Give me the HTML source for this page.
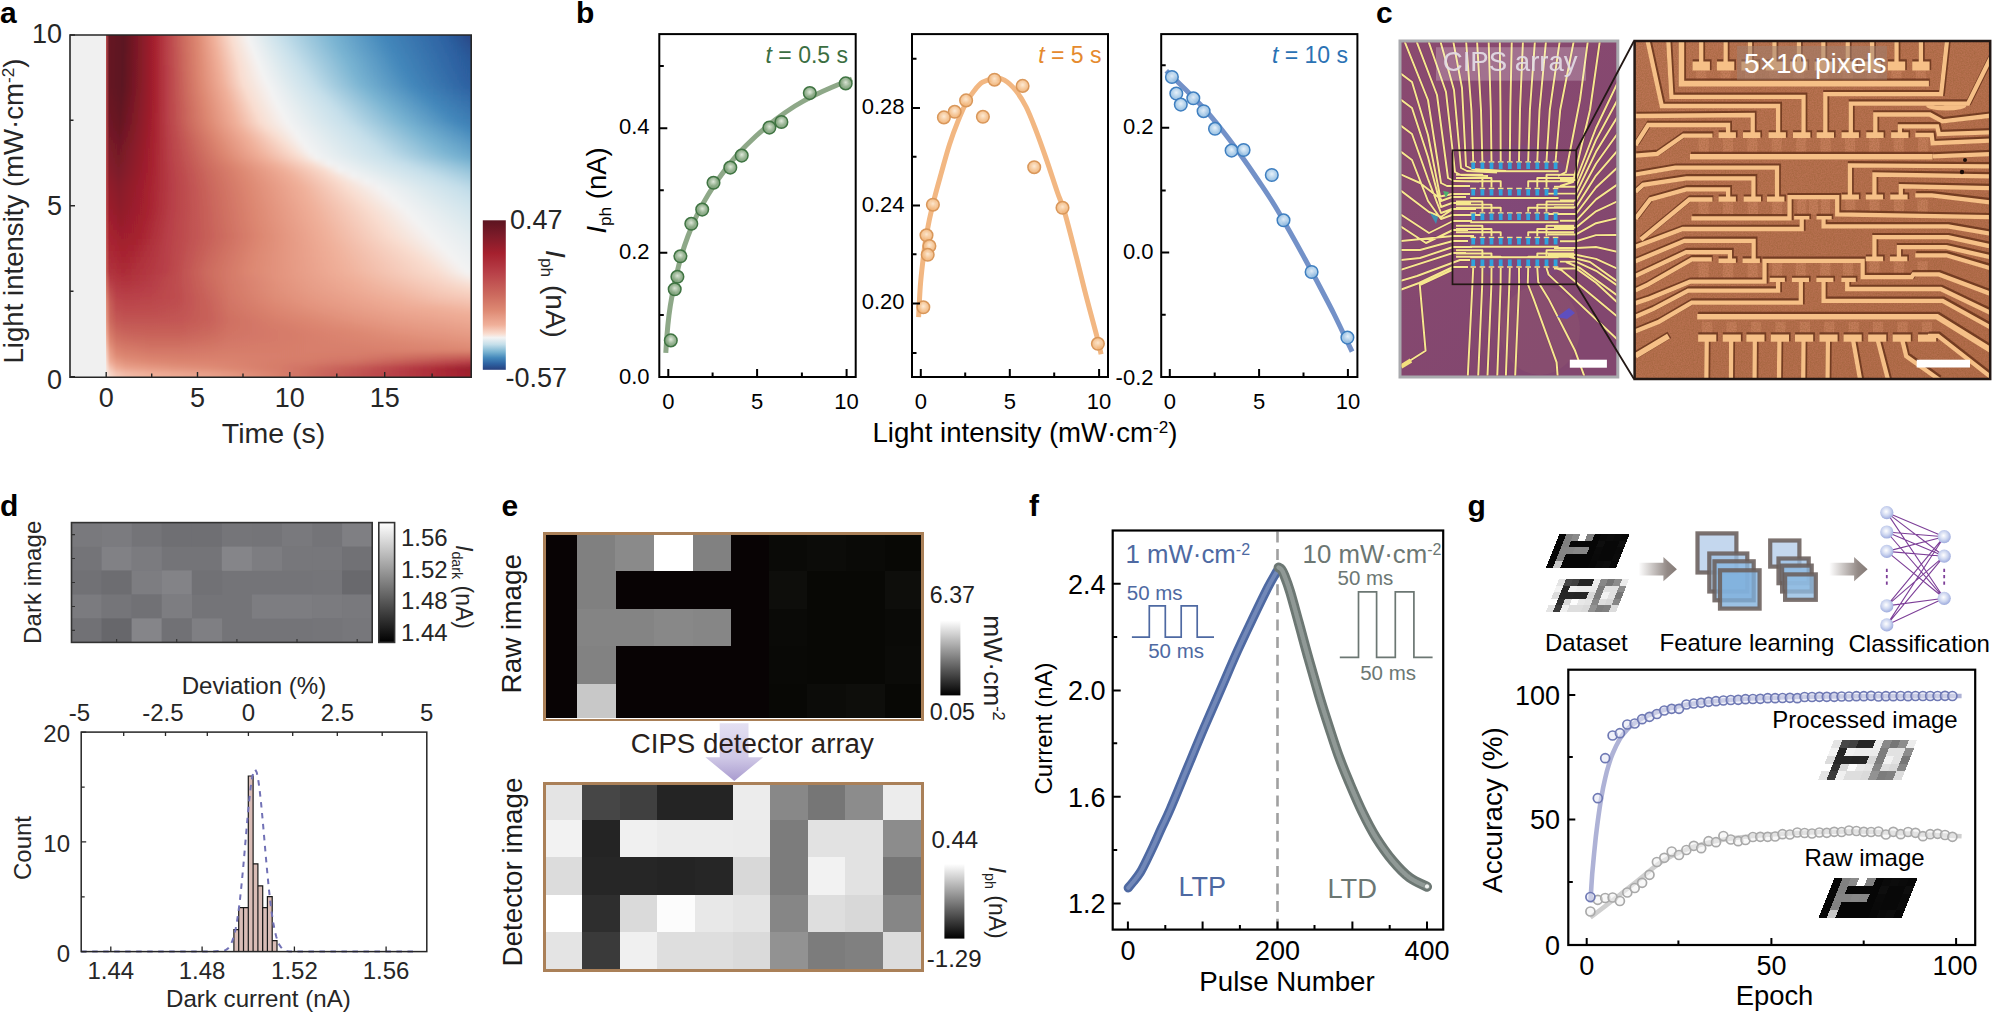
<!DOCTYPE html>
<html><head><meta charset="utf-8"><title>Figure</title>
<style>html,body{margin:0;padding:0;background:#fff}svg{display:block}text{font-family:'Liberation Sans', sans-serif}</style></head>
<body>
<svg width="1992" height="1013" viewBox="0 0 1992 1013">
<defs>
<clipPath id="hc"><rect x="106" y="35" width="365" height="342"/></clipPath>
<filter id="vb" x="-5%" y="-5%" width="110%" height="110%"><feGaussianBlur stdDeviation="0 2.5"/></filter>
<linearGradient id="h0" gradientUnits="userSpaceOnUse" x1="106" x2="906"><stop offset="0" stop-color="#bf4e4f"/><stop offset="0.004" stop-color="#661623"/><stop offset="0.022" stop-color="#5c1420"/><stop offset="0.06" stop-color="#a5202e"/><stop offset="0.076" stop-color="#b84048"/><stop offset="0.096" stop-color="#cc6a5e"/><stop offset="0.114" stop-color="#dd8872"/><stop offset="0.135" stop-color="#f0b09a"/><stop offset="0.157" stop-color="#f9ddd0"/><stop offset="0.178" stop-color="#f3f3f3"/><stop offset="0.22" stop-color="#c5dfea"/><stop offset="0.284" stop-color="#7ab4d2"/><stop offset="0.346" stop-color="#4488bb"/><stop offset="0.424" stop-color="#2d62a2"/><stop offset="0.468" stop-color="#27407e"/></linearGradient>
<linearGradient id="h1" gradientUnits="userSpaceOnUse" x1="106" x2="906"><stop offset="0" stop-color="#bf4e4f"/><stop offset="0.004" stop-color="#661623"/><stop offset="0.022" stop-color="#5c1420"/><stop offset="0.06" stop-color="#a5202e"/><stop offset="0.076" stop-color="#b84048"/><stop offset="0.097" stop-color="#cc6a5e"/><stop offset="0.115" stop-color="#dd8872"/><stop offset="0.136" stop-color="#f0b09a"/><stop offset="0.159" stop-color="#f9ddd0"/><stop offset="0.181" stop-color="#f3f3f3"/><stop offset="0.225" stop-color="#c5dfea"/><stop offset="0.288" stop-color="#7ab4d2"/><stop offset="0.351" stop-color="#4488bb"/><stop offset="0.428" stop-color="#2d62a2"/><stop offset="0.478" stop-color="#27407e"/></linearGradient>
<linearGradient id="h2" gradientUnits="userSpaceOnUse" x1="106" x2="906"><stop offset="-0" stop-color="#bf4e4f"/><stop offset="0.004" stop-color="#661623"/><stop offset="0.022" stop-color="#5c1420"/><stop offset="0.06" stop-color="#a5202e"/><stop offset="0.076" stop-color="#b84048"/><stop offset="0.097" stop-color="#cc6a5e"/><stop offset="0.115" stop-color="#dd8872"/><stop offset="0.138" stop-color="#f0b09a"/><stop offset="0.161" stop-color="#f9ddd0"/><stop offset="0.184" stop-color="#f3f3f3"/><stop offset="0.23" stop-color="#c5dfea"/><stop offset="0.292" stop-color="#7ab4d2"/><stop offset="0.355" stop-color="#4488bb"/><stop offset="0.431" stop-color="#2d62a2"/><stop offset="0.489" stop-color="#27407e"/></linearGradient>
<linearGradient id="h3" gradientUnits="userSpaceOnUse" x1="106" x2="906"><stop offset="0" stop-color="#bf4e4f"/><stop offset="0.004" stop-color="#661623"/><stop offset="0.021" stop-color="#5c1420"/><stop offset="0.06" stop-color="#a5202e"/><stop offset="0.076" stop-color="#b84048"/><stop offset="0.098" stop-color="#cc6a5e"/><stop offset="0.116" stop-color="#dd8872"/><stop offset="0.139" stop-color="#f0b09a"/><stop offset="0.163" stop-color="#f9ddd0"/><stop offset="0.187" stop-color="#f3f3f3"/><stop offset="0.235" stop-color="#c5dfea"/><stop offset="0.297" stop-color="#7ab4d2"/><stop offset="0.36" stop-color="#4488bb"/><stop offset="0.435" stop-color="#2d62a2"/><stop offset="0.5" stop-color="#27407e"/></linearGradient>
<linearGradient id="h4" gradientUnits="userSpaceOnUse" x1="106" x2="906"><stop offset="0" stop-color="#bf4e4f"/><stop offset="0.004" stop-color="#661623"/><stop offset="0.021" stop-color="#5c1420"/><stop offset="0.06" stop-color="#a5202e"/><stop offset="0.076" stop-color="#b84048"/><stop offset="0.098" stop-color="#cc6a5e"/><stop offset="0.116" stop-color="#dd8872"/><stop offset="0.141" stop-color="#f0b09a"/><stop offset="0.165" stop-color="#f9ddd0"/><stop offset="0.19" stop-color="#f3f3f3"/><stop offset="0.24" stop-color="#c5dfea"/><stop offset="0.302" stop-color="#7ab4d2"/><stop offset="0.364" stop-color="#4488bb"/><stop offset="0.438" stop-color="#2d62a2"/><stop offset="0.51" stop-color="#27407e"/></linearGradient>
<linearGradient id="h5" gradientUnits="userSpaceOnUse" x1="106" x2="906"><stop offset="0" stop-color="#bf4e4f"/><stop offset="0.004" stop-color="#661623"/><stop offset="0.021" stop-color="#5c1420"/><stop offset="0.06" stop-color="#a5202e"/><stop offset="0.077" stop-color="#b84048"/><stop offset="0.098" stop-color="#cc6a5e"/><stop offset="0.117" stop-color="#dd8872"/><stop offset="0.142" stop-color="#f0b09a"/><stop offset="0.167" stop-color="#f9ddd0"/><stop offset="0.193" stop-color="#f3f3f3"/><stop offset="0.245" stop-color="#c5dfea"/><stop offset="0.306" stop-color="#7ab4d2"/><stop offset="0.368" stop-color="#4488bb"/><stop offset="0.441" stop-color="#2d62a2"/><stop offset="0.521" stop-color="#27407e"/></linearGradient>
<linearGradient id="h6" gradientUnits="userSpaceOnUse" x1="106" x2="906"><stop offset="0" stop-color="#bf4e4f"/><stop offset="0.004" stop-color="#661623"/><stop offset="0.021" stop-color="#5c1420"/><stop offset="0.06" stop-color="#a5202e"/><stop offset="0.077" stop-color="#b84048"/><stop offset="0.099" stop-color="#cc6a5e"/><stop offset="0.117" stop-color="#dd8872"/><stop offset="0.144" stop-color="#f0b09a"/><stop offset="0.168" stop-color="#f9ddd0"/><stop offset="0.196" stop-color="#f3f3f3"/><stop offset="0.25" stop-color="#c5dfea"/><stop offset="0.31" stop-color="#7ab4d2"/><stop offset="0.373" stop-color="#4488bb"/><stop offset="0.445" stop-color="#2d62a2"/><stop offset="0.532" stop-color="#27407e"/></linearGradient>
<linearGradient id="h7" gradientUnits="userSpaceOnUse" x1="106" x2="906"><stop offset="0" stop-color="#bf4e4f"/><stop offset="0.004" stop-color="#661623"/><stop offset="0.02" stop-color="#5c1420"/><stop offset="0.06" stop-color="#a5202e"/><stop offset="0.077" stop-color="#b84048"/><stop offset="0.099" stop-color="#cc6a5e"/><stop offset="0.118" stop-color="#dd8872"/><stop offset="0.145" stop-color="#f0b09a"/><stop offset="0.17" stop-color="#f9ddd0"/><stop offset="0.199" stop-color="#f3f3f3"/><stop offset="0.255" stop-color="#c5dfea"/><stop offset="0.315" stop-color="#7ab4d2"/><stop offset="0.378" stop-color="#4488bb"/><stop offset="0.448" stop-color="#2d62a2"/><stop offset="0.542" stop-color="#27407e"/></linearGradient>
<linearGradient id="h8" gradientUnits="userSpaceOnUse" x1="106" x2="906"><stop offset="0" stop-color="#bf4e4f"/><stop offset="0.004" stop-color="#661623"/><stop offset="0.02" stop-color="#5c1420"/><stop offset="0.06" stop-color="#a5202e"/><stop offset="0.077" stop-color="#b84048"/><stop offset="0.1" stop-color="#cc6a5e"/><stop offset="0.119" stop-color="#dd8872"/><stop offset="0.147" stop-color="#f0b09a"/><stop offset="0.172" stop-color="#f9ddd0"/><stop offset="0.203" stop-color="#f3f3f3"/><stop offset="0.26" stop-color="#c5dfea"/><stop offset="0.32" stop-color="#7ab4d2"/><stop offset="0.383" stop-color="#4488bb"/><stop offset="0.453" stop-color="#2d62a2"/><stop offset="0.553" stop-color="#27407e"/></linearGradient>
<linearGradient id="h9" gradientUnits="userSpaceOnUse" x1="106" x2="906"><stop offset="0" stop-color="#bf4e4f"/><stop offset="0.004" stop-color="#671623"/><stop offset="0.02" stop-color="#5e1420"/><stop offset="0.06" stop-color="#a5202e"/><stop offset="0.077" stop-color="#b84048"/><stop offset="0.1" stop-color="#cc6a5e"/><stop offset="0.12" stop-color="#dd8872"/><stop offset="0.15" stop-color="#f0b09a"/><stop offset="0.176" stop-color="#f9ddd0"/><stop offset="0.207" stop-color="#f3f3f3"/><stop offset="0.267" stop-color="#c5dfea"/><stop offset="0.329" stop-color="#7ab4d2"/><stop offset="0.392" stop-color="#4488bb"/><stop offset="0.463" stop-color="#2d62a2"/><stop offset="0.563" stop-color="#27407e"/></linearGradient>
<linearGradient id="h10" gradientUnits="userSpaceOnUse" x1="106" x2="906"><stop offset="0" stop-color="#bf4e4f"/><stop offset="0.004" stop-color="#691724"/><stop offset="0.019" stop-color="#5f1521"/><stop offset="0.06" stop-color="#a5202e"/><stop offset="0.077" stop-color="#b84048"/><stop offset="0.101" stop-color="#cc6a5e"/><stop offset="0.122" stop-color="#dd8872"/><stop offset="0.152" stop-color="#f0b09a"/><stop offset="0.179" stop-color="#f9ddd0"/><stop offset="0.21" stop-color="#f3f3f3"/><stop offset="0.274" stop-color="#c5dfea"/><stop offset="0.337" stop-color="#7ab4d2"/><stop offset="0.401" stop-color="#4488bb"/><stop offset="0.474" stop-color="#2d62a2"/><stop offset="0.574" stop-color="#27407e"/></linearGradient>
<linearGradient id="h11" gradientUnits="userSpaceOnUse" x1="106" x2="906"><stop offset="0" stop-color="#bf4e4f"/><stop offset="0.004" stop-color="#6a1724"/><stop offset="0.019" stop-color="#611521"/><stop offset="0.06" stop-color="#a5202e"/><stop offset="0.077" stop-color="#b84048"/><stop offset="0.102" stop-color="#cc6a5e"/><stop offset="0.123" stop-color="#dd8872"/><stop offset="0.155" stop-color="#f0b09a"/><stop offset="0.183" stop-color="#f9ddd0"/><stop offset="0.214" stop-color="#f3f3f3"/><stop offset="0.281" stop-color="#c5dfea"/><stop offset="0.346" stop-color="#7ab4d2"/><stop offset="0.41" stop-color="#4488bb"/><stop offset="0.484" stop-color="#2d62a2"/><stop offset="0.584" stop-color="#27407e"/></linearGradient>
<linearGradient id="h12" gradientUnits="userSpaceOnUse" x1="106" x2="906"><stop offset="0" stop-color="#bf4e4f"/><stop offset="0.004" stop-color="#6c1724"/><stop offset="0.018" stop-color="#621522"/><stop offset="0.06" stop-color="#a5202e"/><stop offset="0.077" stop-color="#b84048"/><stop offset="0.103" stop-color="#cc6a5e"/><stop offset="0.125" stop-color="#dd8872"/><stop offset="0.157" stop-color="#f0b09a"/><stop offset="0.186" stop-color="#f9ddd0"/><stop offset="0.218" stop-color="#f3f3f3"/><stop offset="0.288" stop-color="#c5dfea"/><stop offset="0.354" stop-color="#7ab4d2"/><stop offset="0.419" stop-color="#4488bb"/><stop offset="0.495" stop-color="#2d62a2"/><stop offset="0.595" stop-color="#27407e"/></linearGradient>
<linearGradient id="h13" gradientUnits="userSpaceOnUse" x1="106" x2="906"><stop offset="0" stop-color="#bf4e4f"/><stop offset="0.004" stop-color="#6d1825"/><stop offset="0.018" stop-color="#641622"/><stop offset="0.059" stop-color="#a5202e"/><stop offset="0.077" stop-color="#b84048"/><stop offset="0.103" stop-color="#cc6a5e"/><stop offset="0.126" stop-color="#dd8872"/><stop offset="0.16" stop-color="#f0b09a"/><stop offset="0.19" stop-color="#f9ddd0"/><stop offset="0.222" stop-color="#f3f3f3"/><stop offset="0.294" stop-color="#c5dfea"/><stop offset="0.363" stop-color="#7ab4d2"/><stop offset="0.428" stop-color="#4488bb"/><stop offset="0.505" stop-color="#2d62a2"/><stop offset="0.605" stop-color="#27407e"/></linearGradient>
<linearGradient id="h14" gradientUnits="userSpaceOnUse" x1="106" x2="906"><stop offset="0" stop-color="#bf4e4f"/><stop offset="0.004" stop-color="#6f1825"/><stop offset="0.018" stop-color="#651623"/><stop offset="0.059" stop-color="#a5202e"/><stop offset="0.077" stop-color="#b84048"/><stop offset="0.104" stop-color="#cc6a5e"/><stop offset="0.128" stop-color="#dd8872"/><stop offset="0.162" stop-color="#f0b09a"/><stop offset="0.193" stop-color="#f9ddd0"/><stop offset="0.226" stop-color="#f3f3f3"/><stop offset="0.301" stop-color="#c5dfea"/><stop offset="0.371" stop-color="#7ab4d2"/><stop offset="0.437" stop-color="#4488bb"/><stop offset="0.516" stop-color="#2d62a2"/><stop offset="0.616" stop-color="#27407e"/></linearGradient>
<linearGradient id="h15" gradientUnits="userSpaceOnUse" x1="106" x2="906"><stop offset="0" stop-color="#bf4e4f"/><stop offset="0.004" stop-color="#721926"/><stop offset="0.017" stop-color="#681723"/><stop offset="0.059" stop-color="#a5202e"/><stop offset="0.078" stop-color="#b84048"/><stop offset="0.106" stop-color="#cc6a5e"/><stop offset="0.131" stop-color="#dd8872"/><stop offset="0.167" stop-color="#f0b09a"/><stop offset="0.2" stop-color="#f9ddd0"/><stop offset="0.232" stop-color="#f3f3f3"/><stop offset="0.31" stop-color="#c5dfea"/><stop offset="0.382" stop-color="#7ab4d2"/><stop offset="0.451" stop-color="#4488bb"/><stop offset="0.533" stop-color="#2d62a2"/><stop offset="0.633" stop-color="#27407e"/></linearGradient>
<linearGradient id="h16" gradientUnits="userSpaceOnUse" x1="106" x2="906"><stop offset="0" stop-color="#bf4e4f"/><stop offset="0.004" stop-color="#751927"/><stop offset="0.017" stop-color="#6b1724"/><stop offset="0.058" stop-color="#a5202e"/><stop offset="0.078" stop-color="#b84048"/><stop offset="0.109" stop-color="#cc6a5e"/><stop offset="0.135" stop-color="#dd8872"/><stop offset="0.173" stop-color="#f0b09a"/><stop offset="0.209" stop-color="#f9ddd0"/><stop offset="0.238" stop-color="#f3f3f3"/><stop offset="0.318" stop-color="#c5dfea"/><stop offset="0.392" stop-color="#7ab4d2"/><stop offset="0.465" stop-color="#4488bb"/><stop offset="0.551" stop-color="#2d62a2"/><stop offset="0.651" stop-color="#27407e"/></linearGradient>
<linearGradient id="h17" gradientUnits="userSpaceOnUse" x1="106" x2="906"><stop offset="0" stop-color="#bf4e4f"/><stop offset="0.004" stop-color="#771a28"/><stop offset="0.017" stop-color="#6e1825"/><stop offset="0.058" stop-color="#a5202e"/><stop offset="0.079" stop-color="#b84048"/><stop offset="0.112" stop-color="#cc6a5e"/><stop offset="0.139" stop-color="#dd8872"/><stop offset="0.179" stop-color="#f0b09a"/><stop offset="0.217" stop-color="#f9ddd0"/><stop offset="0.243" stop-color="#f3f3f3"/><stop offset="0.327" stop-color="#c5dfea"/><stop offset="0.403" stop-color="#7ab4d2"/><stop offset="0.479" stop-color="#4488bb"/><stop offset="0.569" stop-color="#2d62a2"/><stop offset="0.669" stop-color="#27407e"/></linearGradient>
<linearGradient id="h18" gradientUnits="userSpaceOnUse" x1="106" x2="906"><stop offset="0" stop-color="#bf4e4f"/><stop offset="0.004" stop-color="#7a1b29"/><stop offset="0.017" stop-color="#711926"/><stop offset="0.057" stop-color="#a5202e"/><stop offset="0.079" stop-color="#b84048"/><stop offset="0.114" stop-color="#cc6a5e"/><stop offset="0.143" stop-color="#dd8872"/><stop offset="0.184" stop-color="#f0b09a"/><stop offset="0.225" stop-color="#f9ddd0"/><stop offset="0.249" stop-color="#f3f3f3"/><stop offset="0.336" stop-color="#c5dfea"/><stop offset="0.414" stop-color="#7ab4d2"/><stop offset="0.494" stop-color="#4488bb"/><stop offset="0.587" stop-color="#2d62a2"/><stop offset="0.687" stop-color="#27407e"/></linearGradient>
<linearGradient id="h19" gradientUnits="userSpaceOnUse" x1="106" x2="906"><stop offset="0" stop-color="#bf4e4f"/><stop offset="0.004" stop-color="#7d1b29"/><stop offset="0.016" stop-color="#741927"/><stop offset="0.057" stop-color="#a5202e"/><stop offset="0.08" stop-color="#b84048"/><stop offset="0.117" stop-color="#cc6a5e"/><stop offset="0.147" stop-color="#dd8872"/><stop offset="0.19" stop-color="#f0b09a"/><stop offset="0.233" stop-color="#f9ddd0"/><stop offset="0.255" stop-color="#f3f3f3"/><stop offset="0.344" stop-color="#c5dfea"/><stop offset="0.425" stop-color="#7ab4d2"/><stop offset="0.508" stop-color="#4488bb"/><stop offset="0.605" stop-color="#2d62a2"/><stop offset="0.705" stop-color="#27407e"/></linearGradient>
<linearGradient id="h20" gradientUnits="userSpaceOnUse" x1="106" x2="906"><stop offset="0" stop-color="#bf4e4f"/><stop offset="0.004" stop-color="#801c2a"/><stop offset="0.016" stop-color="#761a27"/><stop offset="0.056" stop-color="#a5202e"/><stop offset="0.08" stop-color="#b84048"/><stop offset="0.12" stop-color="#cc6a5e"/><stop offset="0.152" stop-color="#dd8872"/><stop offset="0.198" stop-color="#f0b09a"/><stop offset="0.243" stop-color="#f9ddd0"/><stop offset="0.263" stop-color="#f3f3f3"/><stop offset="0.356" stop-color="#c5dfea"/><stop offset="0.44" stop-color="#7ab4d2"/><stop offset="0.527" stop-color="#4488bb"/><stop offset="0.627" stop-color="#2d62a2"/><stop offset="0.728" stop-color="#27407e"/></linearGradient>
<linearGradient id="h21" gradientUnits="userSpaceOnUse" x1="106" x2="906"><stop offset="0" stop-color="#bf4e4f"/><stop offset="0.004" stop-color="#831c2a"/><stop offset="0.016" stop-color="#791a28"/><stop offset="0.056" stop-color="#a5202e"/><stop offset="0.081" stop-color="#b84048"/><stop offset="0.123" stop-color="#cc6a5e"/><stop offset="0.16" stop-color="#dd8872"/><stop offset="0.211" stop-color="#f0b09a"/><stop offset="0.258" stop-color="#f9ddd0"/><stop offset="0.278" stop-color="#f3f3f3"/><stop offset="0.373" stop-color="#c5dfea"/><stop offset="0.464" stop-color="#7ab4d2"/><stop offset="0.557" stop-color="#4488bb"/><stop offset="0.657" stop-color="#2d62a2"/><stop offset="0.757" stop-color="#27407e"/></linearGradient>
<linearGradient id="h22" gradientUnits="userSpaceOnUse" x1="106" x2="906"><stop offset="0" stop-color="#bf4e4f"/><stop offset="0.004" stop-color="#861c2a"/><stop offset="0.016" stop-color="#7c1b29"/><stop offset="0.055" stop-color="#a5202e"/><stop offset="0.082" stop-color="#b84048"/><stop offset="0.127" stop-color="#cc6a5e"/><stop offset="0.168" stop-color="#dd8872"/><stop offset="0.223" stop-color="#f0b09a"/><stop offset="0.273" stop-color="#f9ddd0"/><stop offset="0.292" stop-color="#f3f3f3"/><stop offset="0.391" stop-color="#c5dfea"/><stop offset="0.488" stop-color="#7ab4d2"/><stop offset="0.588" stop-color="#4488bb"/><stop offset="0.688" stop-color="#2d62a2"/><stop offset="0.787" stop-color="#27407e"/></linearGradient>
<linearGradient id="h23" gradientUnits="userSpaceOnUse" x1="106" x2="906"><stop offset="0" stop-color="#bf4e4f"/><stop offset="0.004" stop-color="#8a1d2b"/><stop offset="0.016" stop-color="#7f1b29"/><stop offset="0.054" stop-color="#a5202e"/><stop offset="0.083" stop-color="#b84048"/><stop offset="0.13" stop-color="#cc6a5e"/><stop offset="0.172" stop-color="#dd8872"/><stop offset="0.232" stop-color="#f0b09a"/><stop offset="0.283" stop-color="#f9ddd0"/><stop offset="0.309" stop-color="#f3f3f3"/><stop offset="0.409" stop-color="#c5dfea"/><stop offset="0.509" stop-color="#7ab4d2"/><stop offset="0.609" stop-color="#4488bb"/><stop offset="0.709" stop-color="#2d62a2"/><stop offset="0.809" stop-color="#27407e"/></linearGradient>
<linearGradient id="h24" gradientUnits="userSpaceOnUse" x1="106" x2="906"><stop offset="0" stop-color="#bf4e4f"/><stop offset="0.004" stop-color="#8e1d2b"/><stop offset="0.016" stop-color="#841c2a"/><stop offset="0.053" stop-color="#a5202e"/><stop offset="0.083" stop-color="#b84048"/><stop offset="0.132" stop-color="#cc6a5e"/><stop offset="0.176" stop-color="#dd8872"/><stop offset="0.239" stop-color="#f0b09a"/><stop offset="0.293" stop-color="#f9ddd0"/><stop offset="0.326" stop-color="#f3f3f3"/><stop offset="0.426" stop-color="#c5dfea"/><stop offset="0.529" stop-color="#7ab4d2"/><stop offset="0.629" stop-color="#4488bb"/><stop offset="0.729" stop-color="#2d62a2"/><stop offset="0.829" stop-color="#27407e"/></linearGradient>
<linearGradient id="h25" gradientUnits="userSpaceOnUse" x1="106" x2="906"><stop offset="0" stop-color="#bf4e50"/><stop offset="0.004" stop-color="#911e2c"/><stop offset="0.016" stop-color="#871c2a"/><stop offset="0.052" stop-color="#a5202e"/><stop offset="0.084" stop-color="#b84048"/><stop offset="0.134" stop-color="#cc6a5e"/><stop offset="0.179" stop-color="#dd8872"/><stop offset="0.246" stop-color="#f0b09a"/><stop offset="0.301" stop-color="#f9ddd0"/><stop offset="0.341" stop-color="#f3f3f3"/><stop offset="0.443" stop-color="#c5dfea"/><stop offset="0.547" stop-color="#7ab4d2"/><stop offset="0.648" stop-color="#4488bb"/><stop offset="0.748" stop-color="#2d62a2"/><stop offset="0.849" stop-color="#27407e"/></linearGradient>
<linearGradient id="h26" gradientUnits="userSpaceOnUse" x1="106" x2="906"><stop offset="0" stop-color="#c05050"/><stop offset="0.004" stop-color="#941e2c"/><stop offset="0.017" stop-color="#8a1d2b"/><stop offset="0.051" stop-color="#a5202e"/><stop offset="0.083" stop-color="#b84048"/><stop offset="0.136" stop-color="#cc6a5e"/><stop offset="0.181" stop-color="#dd8872"/><stop offset="0.249" stop-color="#f0b09a"/><stop offset="0.309" stop-color="#f9ddd0"/><stop offset="0.35" stop-color="#f3f3f3"/><stop offset="0.456" stop-color="#c5dfea"/><stop offset="0.562" stop-color="#7ab4d2"/><stop offset="0.666" stop-color="#4488bb"/><stop offset="0.766" stop-color="#2d62a2"/><stop offset="0.867" stop-color="#27407e"/></linearGradient>
<linearGradient id="h27" gradientUnits="userSpaceOnUse" x1="106" x2="906"><stop offset="0" stop-color="#c05151"/><stop offset="0.004" stop-color="#961e2c"/><stop offset="0.017" stop-color="#8c1d2b"/><stop offset="0.051" stop-color="#a5202e"/><stop offset="0.083" stop-color="#b84048"/><stop offset="0.137" stop-color="#cc6a5e"/><stop offset="0.183" stop-color="#dd8872"/><stop offset="0.253" stop-color="#f0b09a"/><stop offset="0.317" stop-color="#f9ddd0"/><stop offset="0.359" stop-color="#f3f3f3"/><stop offset="0.469" stop-color="#c5dfea"/><stop offset="0.578" stop-color="#7ab4d2"/><stop offset="0.684" stop-color="#4488bb"/><stop offset="0.784" stop-color="#2d62a2"/><stop offset="0.884" stop-color="#27407e"/></linearGradient>
<linearGradient id="h28" gradientUnits="userSpaceOnUse" x1="106" x2="906"><stop offset="0" stop-color="#c15252"/><stop offset="0.004" stop-color="#991e2c"/><stop offset="0.017" stop-color="#8e1d2b"/><stop offset="0.05" stop-color="#a5202e"/><stop offset="0.083" stop-color="#b84048"/><stop offset="0.138" stop-color="#cc6a5e"/><stop offset="0.185" stop-color="#dd8872"/><stop offset="0.257" stop-color="#f0b09a"/><stop offset="0.325" stop-color="#f9ddd0"/><stop offset="0.368" stop-color="#f3f3f3"/><stop offset="0.482" stop-color="#c5dfea"/><stop offset="0.593" stop-color="#7ab4d2"/><stop offset="0.703" stop-color="#4488bb"/><stop offset="0.802" stop-color="#2d62a2"/><stop offset="0.902" stop-color="#27407e"/></linearGradient>
<linearGradient id="h29" gradientUnits="userSpaceOnUse" x1="106" x2="906"><stop offset="0" stop-color="#c15452"/><stop offset="0.004" stop-color="#9b1f2d"/><stop offset="0.018" stop-color="#911e2c"/><stop offset="0.049" stop-color="#a5202e"/><stop offset="0.082" stop-color="#b84048"/><stop offset="0.139" stop-color="#cc6a5e"/><stop offset="0.187" stop-color="#dd8872"/><stop offset="0.261" stop-color="#f0b09a"/><stop offset="0.332" stop-color="#f9ddd0"/><stop offset="0.377" stop-color="#f3f3f3"/><stop offset="0.494" stop-color="#c5dfea"/><stop offset="0.607" stop-color="#7ab4d2"/><stop offset="0.72" stop-color="#4488bb"/><stop offset="0.82" stop-color="#2d62a2"/><stop offset="0.92" stop-color="#27407e"/></linearGradient>
<linearGradient id="h30" gradientUnits="userSpaceOnUse" x1="106" x2="906"><stop offset="0" stop-color="#c25653"/><stop offset="0.004" stop-color="#9f1f2d"/><stop offset="0.018" stop-color="#941e2c"/><stop offset="0.047" stop-color="#a5202e"/><stop offset="0.081" stop-color="#b84048"/><stop offset="0.14" stop-color="#cc6a5e"/><stop offset="0.188" stop-color="#dd8872"/><stop offset="0.264" stop-color="#f0b09a"/><stop offset="0.338" stop-color="#f9ddd0"/><stop offset="0.384" stop-color="#f3f3f3"/><stop offset="0.506" stop-color="#c5dfea"/><stop offset="0.622" stop-color="#7ab4d2"/><stop offset="0.735" stop-color="#4488bb"/><stop offset="0.838" stop-color="#2d62a2"/><stop offset="0.938" stop-color="#27407e"/></linearGradient>
<linearGradient id="h31" gradientUnits="userSpaceOnUse" x1="106" x2="906"><stop offset="0" stop-color="#c35855"/><stop offset="0.004" stop-color="#a2202e"/><stop offset="0.018" stop-color="#971e2c"/><stop offset="0.044" stop-color="#a5202e"/><stop offset="0.08" stop-color="#b84048"/><stop offset="0.141" stop-color="#cc6a5e"/><stop offset="0.19" stop-color="#dd8872"/><stop offset="0.268" stop-color="#f0b09a"/><stop offset="0.344" stop-color="#f9ddd0"/><stop offset="0.391" stop-color="#f3f3f3"/><stop offset="0.518" stop-color="#c5dfea"/><stop offset="0.637" stop-color="#7ab4d2"/><stop offset="0.749" stop-color="#4488bb"/><stop offset="0.856" stop-color="#2d62a2"/><stop offset="0.956" stop-color="#27407e"/></linearGradient>
<linearGradient id="h32" gradientUnits="userSpaceOnUse" x1="106" x2="906"><stop offset="0" stop-color="#c45a56"/><stop offset="0.004" stop-color="#a5202e"/><stop offset="0.018" stop-color="#9b1f2d"/><stop offset="0.042" stop-color="#a5202e"/><stop offset="0.079" stop-color="#b84048"/><stop offset="0.142" stop-color="#cc6a5e"/><stop offset="0.192" stop-color="#dd8872"/><stop offset="0.272" stop-color="#f0b09a"/><stop offset="0.35" stop-color="#f9ddd0"/><stop offset="0.399" stop-color="#f3f3f3"/><stop offset="0.53" stop-color="#c5dfea"/><stop offset="0.652" stop-color="#7ab4d2"/><stop offset="0.764" stop-color="#4488bb"/><stop offset="0.873" stop-color="#2d62a2"/><stop offset="0.973" stop-color="#27407e"/></linearGradient>
<linearGradient id="h33" gradientUnits="userSpaceOnUse" x1="106" x2="906"><stop offset="0" stop-color="#c55c57"/><stop offset="0.004" stop-color="#a62230"/><stop offset="0.019" stop-color="#9e1f2d"/><stop offset="0.04" stop-color="#a5202e"/><stop offset="0.078" stop-color="#b84048"/><stop offset="0.144" stop-color="#cc6a5e"/><stop offset="0.194" stop-color="#dd8872"/><stop offset="0.275" stop-color="#f0b09a"/><stop offset="0.356" stop-color="#f9ddd0"/><stop offset="0.406" stop-color="#f3f3f3"/><stop offset="0.542" stop-color="#c5dfea"/><stop offset="0.666" stop-color="#7ab4d2"/><stop offset="0.779" stop-color="#4488bb"/><stop offset="0.891" stop-color="#2d62a2"/><stop offset="0.991" stop-color="#27407e"/></linearGradient>
<linearGradient id="h34" gradientUnits="userSpaceOnUse" x1="106" x2="906"><stop offset="0" stop-color="#c65e58"/><stop offset="0.004" stop-color="#a82532"/><stop offset="0.019" stop-color="#a2202e"/><stop offset="0.037" stop-color="#a6222f"/><stop offset="0.077" stop-color="#b84048"/><stop offset="0.141" stop-color="#cc6a5e"/><stop offset="0.192" stop-color="#dd8872"/><stop offset="0.279" stop-color="#f0b09a"/><stop offset="0.365" stop-color="#f9ddd0"/><stop offset="0.414" stop-color="#f3f3f3"/><stop offset="0.552" stop-color="#c5dfea"/><stop offset="0.678" stop-color="#7ab4d2"/><stop offset="0.793" stop-color="#4488bb"/><stop offset="0.907" stop-color="#2d62a2"/><stop offset="1" stop-color="#27407e"/></linearGradient>
<linearGradient id="h35" gradientUnits="userSpaceOnUse" x1="106" x2="906"><stop offset="0" stop-color="#c76059"/><stop offset="0.004" stop-color="#aa2834"/><stop offset="0.02" stop-color="#a5202e"/><stop offset="0.034" stop-color="#a72431"/><stop offset="0.076" stop-color="#b84048"/><stop offset="0.138" stop-color="#cc6a5e"/><stop offset="0.19" stop-color="#dd8872"/><stop offset="0.283" stop-color="#f0b09a"/><stop offset="0.375" stop-color="#f9ddd0"/><stop offset="0.421" stop-color="#f3f3f3"/><stop offset="0.562" stop-color="#c5dfea"/><stop offset="0.691" stop-color="#7ab4d2"/><stop offset="0.807" stop-color="#4488bb"/><stop offset="0.923" stop-color="#2d62a2"/><stop offset="1" stop-color="#27407e"/></linearGradient>
<linearGradient id="h36" gradientUnits="userSpaceOnUse" x1="106" x2="906"><stop offset="0" stop-color="#c8635a"/><stop offset="0.004" stop-color="#ab2b37"/><stop offset="0.021" stop-color="#a72331"/><stop offset="0.032" stop-color="#a82633"/><stop offset="0.076" stop-color="#b84048"/><stop offset="0.134" stop-color="#cc6a5e"/><stop offset="0.187" stop-color="#dd8872"/><stop offset="0.286" stop-color="#f0b09a"/><stop offset="0.385" stop-color="#f9ddd0"/><stop offset="0.429" stop-color="#f3f3f3"/><stop offset="0.572" stop-color="#c5dfea"/><stop offset="0.703" stop-color="#7ab4d2"/><stop offset="0.821" stop-color="#4488bb"/><stop offset="0.939" stop-color="#2d62a2"/><stop offset="1" stop-color="#27407e"/></linearGradient>
<linearGradient id="h37" gradientUnits="userSpaceOnUse" x1="106" x2="906"><stop offset="0" stop-color="#ca655b"/><stop offset="0.004" stop-color="#ad2d39"/><stop offset="0.021" stop-color="#a82633"/><stop offset="0.029" stop-color="#aa2834"/><stop offset="0.075" stop-color="#b84048"/><stop offset="0.131" stop-color="#cc6a5e"/><stop offset="0.185" stop-color="#dd8872"/><stop offset="0.29" stop-color="#f0b09a"/><stop offset="0.395" stop-color="#f9ddd0"/><stop offset="0.436" stop-color="#f3f3f3"/><stop offset="0.582" stop-color="#c5dfea"/><stop offset="0.715" stop-color="#7ab4d2"/><stop offset="0.835" stop-color="#4488bb"/><stop offset="0.955" stop-color="#2d62a2"/><stop offset="1" stop-color="#27407e"/></linearGradient>
<linearGradient id="h38" gradientUnits="userSpaceOnUse" x1="106" x2="906"><stop offset="0" stop-color="#cb675c"/><stop offset="0.004" stop-color="#af303b"/><stop offset="0.022" stop-color="#aa2935"/><stop offset="0.026" stop-color="#ab2a36"/><stop offset="0.075" stop-color="#b84048"/><stop offset="0.128" stop-color="#cc6a5e"/><stop offset="0.183" stop-color="#dd8872"/><stop offset="0.294" stop-color="#f0b09a"/><stop offset="0.404" stop-color="#f9ddd0"/><stop offset="0.444" stop-color="#f3f3f3"/><stop offset="0.592" stop-color="#c5dfea"/><stop offset="0.727" stop-color="#7ab4d2"/><stop offset="0.849" stop-color="#4488bb"/><stop offset="0.971" stop-color="#2d62a2"/><stop offset="1" stop-color="#27407e"/></linearGradient>
<linearGradient id="h39" gradientUnits="userSpaceOnUse" x1="106" x2="906"><stop offset="0" stop-color="#cc695e"/><stop offset="0.004" stop-color="#b0333d"/><stop offset="0.022" stop-color="#ac2b37"/><stop offset="0.023" stop-color="#ac2c37"/><stop offset="0.074" stop-color="#b84048"/><stop offset="0.125" stop-color="#cc6a5e"/><stop offset="0.181" stop-color="#dd8872"/><stop offset="0.298" stop-color="#f0b09a"/><stop offset="0.414" stop-color="#f9ddd0"/><stop offset="0.451" stop-color="#f3f3f3"/><stop offset="0.602" stop-color="#c5dfea"/><stop offset="0.738" stop-color="#7ab4d2"/><stop offset="0.863" stop-color="#4488bb"/><stop offset="0.987" stop-color="#2d62a2"/><stop offset="1" stop-color="#27407e"/></linearGradient>
<linearGradient id="h40" gradientUnits="userSpaceOnUse" x1="106" x2="906"><stop offset="0" stop-color="#cf7062"/><stop offset="0.005" stop-color="#b43942"/><stop offset="0.013" stop-color="#b1343e"/><stop offset="0.025" stop-color="#af313b"/><stop offset="0.055" stop-color="#b53b44"/><stop offset="0.092" stop-color="#bf4f50"/><stop offset="0.13" stop-color="#cd6c5f"/><stop offset="0.155" stop-color="#d57a69"/><stop offset="0.212" stop-color="#e2927c"/><stop offset="0.256" stop-color="#e8a08a"/><stop offset="0.312" stop-color="#f0b19b"/><stop offset="0.367" stop-color="#f4c6b4"/><stop offset="0.417" stop-color="#f8d8ca"/><stop offset="0.456" stop-color="#f5ece8"/></linearGradient>
<linearGradient id="h41" gradientUnits="userSpaceOnUse" x1="106" x2="906"><stop offset="0" stop-color="#d47867"/><stop offset="0.005" stop-color="#b94249"/><stop offset="0.013" stop-color="#b33842"/><stop offset="0.025" stop-color="#b2353f"/><stop offset="0.055" stop-color="#b63d46"/><stop offset="0.092" stop-color="#bf4f50"/><stop offset="0.13" stop-color="#cc6a5e"/><stop offset="0.155" stop-color="#d47968"/><stop offset="0.212" stop-color="#e1907a"/><stop offset="0.256" stop-color="#e79e88"/><stop offset="0.312" stop-color="#efad97"/><stop offset="0.367" stop-color="#f3c0ad"/><stop offset="0.417" stop-color="#f7d1c2"/><stop offset="0.456" stop-color="#f8e1d6"/></linearGradient>
<linearGradient id="h42" gradientUnits="userSpaceOnUse" x1="106" x2="906"><stop offset="0" stop-color="#d9806d"/><stop offset="0.005" stop-color="#be4c4e"/><stop offset="0.013" stop-color="#b63d46"/><stop offset="0.025" stop-color="#b53a43"/><stop offset="0.055" stop-color="#b84048"/><stop offset="0.092" stop-color="#bf4f50"/><stop offset="0.13" stop-color="#cb685d"/><stop offset="0.155" stop-color="#d47867"/><stop offset="0.212" stop-color="#e08f79"/><stop offset="0.256" stop-color="#e69c86"/><stop offset="0.312" stop-color="#edaa94"/><stop offset="0.367" stop-color="#f2baa6"/><stop offset="0.417" stop-color="#f5cbba"/><stop offset="0.456" stop-color="#f8d7c8"/></linearGradient>
<linearGradient id="h43" gradientUnits="userSpaceOnUse" x1="106" x2="906"><stop offset="0" stop-color="#dd8973"/><stop offset="0.005" stop-color="#c25553"/><stop offset="0.013" stop-color="#b94249"/><stop offset="0.025" stop-color="#b83f47"/><stop offset="0.055" stop-color="#ba434a"/><stop offset="0.092" stop-color="#bf4e4f"/><stop offset="0.13" stop-color="#ca665c"/><stop offset="0.155" stop-color="#d37766"/><stop offset="0.212" stop-color="#df8d77"/><stop offset="0.256" stop-color="#e59983"/><stop offset="0.312" stop-color="#eba690"/><stop offset="0.367" stop-color="#f1b49f"/><stop offset="0.417" stop-color="#f4c4b2"/><stop offset="0.456" stop-color="#f6cdbd"/></linearGradient>
<linearGradient id="h44" gradientUnits="userSpaceOnUse" x1="106" x2="906"><stop offset="0" stop-color="#e2927c"/><stop offset="0.005" stop-color="#c65d57"/><stop offset="0.013" stop-color="#bc484c"/><stop offset="0.025" stop-color="#ba444a"/><stop offset="0.055" stop-color="#bb474c"/><stop offset="0.092" stop-color="#bf4f50"/><stop offset="0.13" stop-color="#c9645b"/><stop offset="0.155" stop-color="#d27566"/><stop offset="0.212" stop-color="#de8a74"/><stop offset="0.256" stop-color="#e49680"/><stop offset="0.312" stop-color="#eaa28c"/><stop offset="0.367" stop-color="#efae98"/><stop offset="0.417" stop-color="#f2bba8"/><stop offset="0.456" stop-color="#f4c3b1"/></linearGradient>
<linearGradient id="h45" gradientUnits="userSpaceOnUse" x1="106" x2="906"><stop offset="0" stop-color="#e49680"/><stop offset="0.005" stop-color="#c8625a"/><stop offset="0.013" stop-color="#be4d4f"/><stop offset="0.025" stop-color="#bd4a4d"/><stop offset="0.055" stop-color="#bd4b4e"/><stop offset="0.092" stop-color="#c05151"/><stop offset="0.13" stop-color="#c9635a"/><stop offset="0.155" stop-color="#d17464"/><stop offset="0.212" stop-color="#dc8671"/><stop offset="0.256" stop-color="#e2927c"/><stop offset="0.312" stop-color="#e79e88"/><stop offset="0.367" stop-color="#eda993"/><stop offset="0.417" stop-color="#f0b09a"/><stop offset="0.456" stop-color="#f2b9a5"/></linearGradient>
<linearGradient id="h46" gradientUnits="userSpaceOnUse" x1="106" x2="906"><stop offset="0" stop-color="#e69b85"/><stop offset="0.005" stop-color="#ca665c"/><stop offset="0.013" stop-color="#c15352"/><stop offset="0.025" stop-color="#bf4f50"/><stop offset="0.055" stop-color="#bf4f50"/><stop offset="0.092" stop-color="#c15452"/><stop offset="0.13" stop-color="#c8625a"/><stop offset="0.155" stop-color="#d07263"/><stop offset="0.212" stop-color="#da836e"/><stop offset="0.256" stop-color="#df8d77"/><stop offset="0.312" stop-color="#e59983"/><stop offset="0.367" stop-color="#eaa38d"/><stop offset="0.417" stop-color="#edaa94"/><stop offset="0.456" stop-color="#f0af99"/></linearGradient>
<linearGradient id="h47" gradientUnits="userSpaceOnUse" x1="106" x2="906"><stop offset="0" stop-color="#e8a08a"/><stop offset="0.005" stop-color="#cc6a5e"/><stop offset="0.013" stop-color="#c45955"/><stop offset="0.025" stop-color="#c15452"/><stop offset="0.055" stop-color="#c15452"/><stop offset="0.092" stop-color="#c35654"/><stop offset="0.13" stop-color="#c8625a"/><stop offset="0.155" stop-color="#cf7062"/><stop offset="0.212" stop-color="#d87f6c"/><stop offset="0.256" stop-color="#dd8872"/><stop offset="0.312" stop-color="#e3947e"/><stop offset="0.367" stop-color="#e79e88"/><stop offset="0.417" stop-color="#eaa48e"/><stop offset="0.456" stop-color="#edaa94"/></linearGradient>
<linearGradient id="h48" gradientUnits="userSpaceOnUse" x1="106" x2="906"><stop offset="0" stop-color="#eca791"/><stop offset="0.005" stop-color="#d07263"/><stop offset="0.013" stop-color="#c76059"/><stop offset="0.025" stop-color="#c55b56"/><stop offset="0.055" stop-color="#c45a55"/><stop offset="0.092" stop-color="#c55b56"/><stop offset="0.13" stop-color="#ca655b"/><stop offset="0.155" stop-color="#d07163"/><stop offset="0.212" stop-color="#d67c6a"/><stop offset="0.256" stop-color="#db846f"/><stop offset="0.312" stop-color="#e08e78"/><stop offset="0.367" stop-color="#e59882"/><stop offset="0.417" stop-color="#e79e88"/><stop offset="0.456" stop-color="#eaa48e"/></linearGradient>
<linearGradient id="h49" gradientUnits="userSpaceOnUse" x1="106" x2="906"><stop offset="0" stop-color="#efae98"/><stop offset="0.005" stop-color="#d57968"/><stop offset="0.013" stop-color="#cb685d"/><stop offset="0.025" stop-color="#c8625a"/><stop offset="0.055" stop-color="#c76059"/><stop offset="0.092" stop-color="#c76059"/><stop offset="0.13" stop-color="#cb695d"/><stop offset="0.155" stop-color="#d17364"/><stop offset="0.212" stop-color="#d57a69"/><stop offset="0.256" stop-color="#d9806d"/><stop offset="0.312" stop-color="#dd8872"/><stop offset="0.367" stop-color="#e2927c"/><stop offset="0.417" stop-color="#e59882"/><stop offset="0.456" stop-color="#e79e88"/></linearGradient>
<linearGradient id="h50" gradientUnits="userSpaceOnUse" x1="106" x2="906"><stop offset="0" stop-color="#f2b8a3"/><stop offset="0.005" stop-color="#da826e"/><stop offset="0.013" stop-color="#cf7062"/><stop offset="0.025" stop-color="#cc6a5e"/><stop offset="0.055" stop-color="#ca665c"/><stop offset="0.092" stop-color="#ca665c"/><stop offset="0.13" stop-color="#ce6e60"/><stop offset="0.155" stop-color="#d27566"/><stop offset="0.212" stop-color="#d57a69"/><stop offset="0.256" stop-color="#d87f6c"/><stop offset="0.312" stop-color="#db8570"/><stop offset="0.367" stop-color="#df8c76"/><stop offset="0.417" stop-color="#e2927c"/><stop offset="0.456" stop-color="#e49781"/></linearGradient>
<linearGradient id="h51" gradientUnits="userSpaceOnUse" x1="106" x2="906"><stop offset="0" stop-color="#f4c3b0"/><stop offset="0.005" stop-color="#df8c76"/><stop offset="0.013" stop-color="#d47968"/><stop offset="0.025" stop-color="#d17364"/><stop offset="0.055" stop-color="#ce6e61"/><stop offset="0.092" stop-color="#ce6e61"/><stop offset="0.13" stop-color="#d17364"/><stop offset="0.155" stop-color="#d47968"/><stop offset="0.212" stop-color="#d67c6a"/><stop offset="0.256" stop-color="#d87f6c"/><stop offset="0.312" stop-color="#d9826e"/><stop offset="0.367" stop-color="#dc8671"/><stop offset="0.417" stop-color="#de8b75"/><stop offset="0.456" stop-color="#e1907a"/></linearGradient>
<linearGradient id="h52" gradientUnits="userSpaceOnUse" x1="106" x2="906"><stop offset="0" stop-color="#f6cebe"/><stop offset="0.005" stop-color="#e59882"/><stop offset="0.013" stop-color="#da826e"/><stop offset="0.025" stop-color="#d67c6a"/><stop offset="0.055" stop-color="#d37666"/><stop offset="0.092" stop-color="#d37666"/><stop offset="0.13" stop-color="#d47968"/><stop offset="0.155" stop-color="#d67c6a"/><stop offset="0.212" stop-color="#d77d6b"/><stop offset="0.256" stop-color="#d87f6c"/><stop offset="0.312" stop-color="#d87f6c"/><stop offset="0.367" stop-color="#da826e"/><stop offset="0.417" stop-color="#db8570"/><stop offset="0.456" stop-color="#dd8872"/></linearGradient>
<linearGradient id="h53" gradientUnits="userSpaceOnUse" x1="106" x2="906"><stop offset="0" stop-color="#f8d7c9"/><stop offset="0.005" stop-color="#e9a28c"/><stop offset="0.013" stop-color="#df8c76"/><stop offset="0.025" stop-color="#db8570"/><stop offset="0.055" stop-color="#d87f6c"/><stop offset="0.092" stop-color="#d77d6b"/><stop offset="0.13" stop-color="#d87e6c"/><stop offset="0.155" stop-color="#d8806c"/><stop offset="0.212" stop-color="#d87e6c"/><stop offset="0.256" stop-color="#d77e6b"/><stop offset="0.312" stop-color="#d67b6a"/><stop offset="0.367" stop-color="#d17464"/><stop offset="0.417" stop-color="#cd6c5f"/><stop offset="0.456" stop-color="#ca665c"/></linearGradient>
<linearGradient id="h54" gradientUnits="userSpaceOnUse" x1="106" x2="906"><stop offset="0" stop-color="#f8e0d5"/><stop offset="0.005" stop-color="#efad97"/><stop offset="0.013" stop-color="#e69b85"/><stop offset="0.025" stop-color="#e1917b"/><stop offset="0.055" stop-color="#de8973"/><stop offset="0.092" stop-color="#db8570"/><stop offset="0.13" stop-color="#db846f"/><stop offset="0.155" stop-color="#da836f"/><stop offset="0.212" stop-color="#d77e6b"/><stop offset="0.256" stop-color="#d57a69"/><stop offset="0.312" stop-color="#d07163"/><stop offset="0.367" stop-color="#c75f58"/><stop offset="0.417" stop-color="#be4d4f"/><stop offset="0.456" stop-color="#b83f47"/></linearGradient>
<linearGradient id="h55" gradientUnits="userSpaceOnUse" x1="106" x2="906"><stop offset="0" stop-color="#f7e6de"/><stop offset="0.005" stop-color="#f4c4b2"/><stop offset="0.013" stop-color="#eeac96"/><stop offset="0.025" stop-color="#e9a18b"/><stop offset="0.055" stop-color="#e59983"/><stop offset="0.092" stop-color="#e1917b"/><stop offset="0.13" stop-color="#df8c76"/><stop offset="0.155" stop-color="#dc8771"/><stop offset="0.212" stop-color="#d67c6a"/><stop offset="0.256" stop-color="#cf7062"/><stop offset="0.312" stop-color="#c55b56"/><stop offset="0.367" stop-color="#b84148"/><stop offset="0.417" stop-color="#ab2a36"/><stop offset="0.456" stop-color="#9a1f2d"/></linearGradient>
<linearGradient id="h56" gradientUnits="userSpaceOnUse" x1="106" x2="906"><stop offset="0" stop-color="#f6e9e4"/><stop offset="0.005" stop-color="#f8d7c9"/><stop offset="0.013" stop-color="#f4c6b5"/><stop offset="0.025" stop-color="#f2baa7"/><stop offset="0.055" stop-color="#f0af99"/><stop offset="0.092" stop-color="#eca791"/><stop offset="0.13" stop-color="#e89f89"/><stop offset="0.155" stop-color="#e49781"/><stop offset="0.212" stop-color="#d9816d"/><stop offset="0.256" stop-color="#cd6c60"/><stop offset="0.312" stop-color="#c15452"/><stop offset="0.367" stop-color="#b73e46"/><stop offset="0.417" stop-color="#ab2b37"/><stop offset="0.456" stop-color="#a1202e"/></linearGradient>
<linearGradient id="cba" x1="0" y1="0" x2="0" y2="1"><stop offset="0.0" stop-color="#5c1420"/><stop offset="0.1" stop-color="#7c1b29"/><stop offset="0.22" stop-color="#a5202e"/><stop offset="0.35" stop-color="#b84048"/><stop offset="0.5" stop-color="#cc6a5e"/><stop offset="0.6" stop-color="#dd8872"/><stop offset="0.7" stop-color="#f0b09a"/><stop offset="0.76" stop-color="#f9ddd0"/><stop offset="0.785" stop-color="#f3f3f3"/><stop offset="0.83" stop-color="#c5dfea"/><stop offset="0.88" stop-color="#7ab4d2"/><stop offset="0.92" stop-color="#4488bb"/><stop offset="0.96" stop-color="#2d62a2"/><stop offset="1.0" stop-color="#27407e"/></linearGradient>
<radialGradient id="mg" cx="0.5" cy="0.42" r="0.6"><stop offset="0" stop-color="#dfe8da" stop-opacity="0.95"/><stop offset="0.55" stop-color="#8fae8a" stop-opacity="0.9"/><stop offset="1" stop-color="#6a9267" stop-opacity="0.9"/></radialGradient>
<radialGradient id="mo" cx="0.5" cy="0.42" r="0.6"><stop offset="0" stop-color="#fde9d2" stop-opacity="0.95"/><stop offset="0.6" stop-color="#f4c08c" stop-opacity="0.9"/><stop offset="1" stop-color="#eeaa6a" stop-opacity="0.9"/></radialGradient>
<radialGradient id="mb" cx="0.5" cy="0.42" r="0.6"><stop offset="0" stop-color="#e6f1fa" stop-opacity="0.95"/><stop offset="0.6" stop-color="#a8cbe8" stop-opacity="0.9"/><stop offset="1" stop-color="#86b4dc" stop-opacity="0.9"/></radialGradient>
<linearGradient id="omg" x1="0" y1="0" x2="0.6" y2="1"><stop offset="0" stop-color="#8a4a70"/><stop offset="1" stop-color="#82476f"/></linearGradient>
<clipPath id="omc"><rect x="1401.5" y="42.5" width="214.8" height="333"/></clipPath>
<linearGradient id="semg" x1="0" y1="0" x2="1" y2="1"><stop offset="0" stop-color="#bb7454"/><stop offset="1" stop-color="#b36c4c"/></linearGradient>
<clipPath id="semc"><rect x="1634.5" y="41" width="355" height="338"/></clipPath>
<filter id="nz" x="0" y="0" width="100%" height="100%"><feTurbulence type="fractalNoise" baseFrequency="0.75" numOctaves="2" seed="4"/><feColorMatrix type="matrix" values="0 0 0 0 0.25 0 0 0 0 0.1 0 0 0 0 0.02 0 0 0 1.3 -0.42"/></filter>
<filter id="sb" x="-2%" y="-2%" width="104%" height="104%"><feGaussianBlur stdDeviation="0.7"/></filter>
<linearGradient id="gwb" x1="0" y1="0" x2="0" y2="1"><stop offset="0" stop-color="#fff"/><stop offset="1" stop-color="#000"/></linearGradient>
<linearGradient id="arw" x1="0" y1="0" x2="0" y2="1"><stop offset="0" stop-color="#e4e0f2"/><stop offset="0.6" stop-color="#cfc8e6"/><stop offset="1" stop-color="#a99bcf"/></linearGradient>
<linearGradient id="ga"><stop offset="0" stop-color="#8d837f" stop-opacity="0"/><stop offset="0.75" stop-color="#8d837f" stop-opacity="0.95"/><stop offset="1" stop-color="#857b77"/></linearGradient>
<radialGradient id="nd" cx="0.45" cy="0.42" r="0.6"><stop offset="0" stop-color="#fff"/><stop offset="0.55" stop-color="#cdd6f0"/><stop offset="1" stop-color="#9aa8dc"/></radialGradient>
</defs>
<text x="0" y="22.5" font-size="30" font-weight="bold">a</text>
<g id="pa">
<rect x="70" y="35" width="37" height="342" fill="#f0f0f0"/>
<g clip-path="url(#hc)"><g filter="url(#vb)">
<rect x="94" y="23" width="388.5" height="18.5" fill="url(#h0)"/>
<rect x="94" y="41" width="388.5" height="6.5" fill="url(#h1)"/>
<rect x="94" y="47" width="388.5" height="6.5" fill="url(#h2)"/>
<rect x="94" y="53" width="388.5" height="6.5" fill="url(#h3)"/>
<rect x="94" y="59" width="388.5" height="6.5" fill="url(#h4)"/>
<rect x="94" y="65" width="388.5" height="6.5" fill="url(#h5)"/>
<rect x="94" y="71" width="388.5" height="6.5" fill="url(#h6)"/>
<rect x="94" y="77" width="388.5" height="6.5" fill="url(#h7)"/>
<rect x="94" y="83" width="388.5" height="6.5" fill="url(#h8)"/>
<rect x="94" y="89" width="388.5" height="6.5" fill="url(#h9)"/>
<rect x="94" y="95" width="388.5" height="6.5" fill="url(#h10)"/>
<rect x="94" y="101" width="388.5" height="6.5" fill="url(#h11)"/>
<rect x="94" y="107" width="388.5" height="6.5" fill="url(#h12)"/>
<rect x="94" y="113" width="388.5" height="6.5" fill="url(#h13)"/>
<rect x="94" y="119" width="388.5" height="6.5" fill="url(#h14)"/>
<rect x="94" y="125" width="388.5" height="6.5" fill="url(#h15)"/>
<rect x="94" y="131" width="388.5" height="6.5" fill="url(#h16)"/>
<rect x="94" y="137" width="388.5" height="6.5" fill="url(#h17)"/>
<rect x="94" y="143" width="388.5" height="6.5" fill="url(#h18)"/>
<rect x="94" y="149" width="388.5" height="6.5" fill="url(#h19)"/>
<rect x="94" y="155" width="388.5" height="6.5" fill="url(#h20)"/>
<rect x="94" y="161" width="388.5" height="6.5" fill="url(#h21)"/>
<rect x="94" y="167" width="388.5" height="6.5" fill="url(#h22)"/>
<rect x="94" y="173" width="388.5" height="6.5" fill="url(#h23)"/>
<rect x="94" y="179" width="388.5" height="6.5" fill="url(#h24)"/>
<rect x="94" y="185" width="388.5" height="6.5" fill="url(#h25)"/>
<rect x="94" y="191" width="388.5" height="6.5" fill="url(#h26)"/>
<rect x="94" y="197" width="388.5" height="6.5" fill="url(#h27)"/>
<rect x="94" y="203" width="388.5" height="6.5" fill="url(#h28)"/>
<rect x="94" y="209" width="388.5" height="6.5" fill="url(#h29)"/>
<rect x="94" y="215" width="388.5" height="6.5" fill="url(#h30)"/>
<rect x="94" y="221" width="388.5" height="6.5" fill="url(#h31)"/>
<rect x="94" y="227" width="388.5" height="6.5" fill="url(#h32)"/>
<rect x="94" y="233" width="388.5" height="6.5" fill="url(#h33)"/>
<rect x="94" y="239" width="388.5" height="6.5" fill="url(#h34)"/>
<rect x="94" y="245" width="388.5" height="6.5" fill="url(#h35)"/>
<rect x="94" y="251" width="388.5" height="6.5" fill="url(#h36)"/>
<rect x="94" y="257" width="388.5" height="6.5" fill="url(#h37)"/>
<rect x="94" y="263" width="388.5" height="6.5" fill="url(#h38)"/>
<rect x="94" y="269" width="388.5" height="6.5" fill="url(#h39)"/>
<rect x="94" y="275" width="388.5" height="6.5" fill="url(#h40)"/>
<rect x="94" y="281" width="388.5" height="6.5" fill="url(#h41)"/>
<rect x="94" y="287" width="388.5" height="6.5" fill="url(#h42)"/>
<rect x="94" y="293" width="388.5" height="6.5" fill="url(#h43)"/>
<rect x="94" y="299" width="388.5" height="6.5" fill="url(#h44)"/>
<rect x="94" y="305" width="388.5" height="6.5" fill="url(#h45)"/>
<rect x="94" y="311" width="388.5" height="6.5" fill="url(#h46)"/>
<rect x="94" y="317" width="388.5" height="6.5" fill="url(#h47)"/>
<rect x="94" y="323" width="388.5" height="6.5" fill="url(#h48)"/>
<rect x="94" y="329" width="388.5" height="6.5" fill="url(#h49)"/>
<rect x="94" y="335" width="388.5" height="6.5" fill="url(#h50)"/>
<rect x="94" y="341" width="388.5" height="6.5" fill="url(#h51)"/>
<rect x="94" y="347" width="388.5" height="6.5" fill="url(#h52)"/>
<rect x="94" y="353" width="388.5" height="6.5" fill="url(#h53)"/>
<rect x="94" y="359" width="388.5" height="6.5" fill="url(#h54)"/>
<rect x="94" y="365" width="388.5" height="6.5" fill="url(#h55)"/>
<rect x="94" y="371" width="388.5" height="18.5" fill="url(#h56)"/>
</g></g>
<path d="M70 377.3V35H471.2V377.3Z" fill="none" stroke="#262626" stroke-width="1.6"/>
<path d="M106.2 377v-5M197.5 377v-5M289.8 377v-5M384.7 377v-5" fill="none" stroke="#262626" stroke-width="1.4"/>
<path d="M151.7 377v-3.5M243 377v-3.5M336.8 377v-3.5M432.1 377v-3.5" fill="none" stroke="#262626" stroke-width="1.4"/>
<path d="M70 35h5M70 205.7h5M70 376.7h5" fill="none" stroke="#262626" stroke-width="1.4"/>
<path d="M70 120.2h3.5M70 291.2h3.5" fill="none" stroke="#262626" stroke-width="1.4"/>
<text x="106.2" y="407" text-anchor="middle" fill="#262626" font-size="27">0</text>
<text x="197.5" y="407" text-anchor="middle" fill="#262626" font-size="27">5</text>
<text x="289.8" y="407" text-anchor="middle" fill="#262626" font-size="27">10</text>
<text x="384.7" y="407" text-anchor="middle" fill="#262626" font-size="27">15</text>
<text x="62" y="43.3" text-anchor="end" fill="#262626" font-size="27">10</text>
<text x="62" y="215.3" text-anchor="end" fill="#262626" font-size="27">5</text>
<text x="62" y="388.8" text-anchor="end" fill="#262626" font-size="27">0</text>
<text x="273.5" y="443" text-anchor="middle" fill="#262626" font-size="28.5">Time (s)</text>
<text text-anchor="middle" fill="#262626" transform="translate(23,211) rotate(-90)" font-size="27.6">Light intensity (mW·cm<tspan baseline-shift="9.1" font-size="17.1">-2</tspan>)</text>
<rect x="482.8" y="220.3" width="23" height="149.5" fill="url(#cba)"/>
<text x="510" y="228.6" fill="#262626" font-size="27">0.47</text>
<text x="505.5" y="386.8" fill="#262626" font-size="27">-0.57</text>
<text text-anchor="middle" fill="#262626" transform="translate(546,294) rotate(90)" font-size="28"><tspan font-style="italic">I</tspan><tspan baseline-shift="-5" font-size="17.4">ph</tspan> (nA)</text>
</g>
<g id="pb">
<text x="576" y="22.7" font-weight="bold" font-size="30">b</text>
<path d="M665.8 352.9C666 349.9 666.5 341.3 667 335C667.5 328.7 668.2 321.5 669 315C669.8 308.5 670.8 302.3 672 296C673.2 289.7 674.5 283.5 676 277C677.5 270.5 679 263.8 681 257C683 250.2 685.3 243 688 236C690.7 229 693.7 221.8 697 215C700.3 208.2 703.8 201.8 708 195C712.2 188.2 717 180.8 722 174C727 167.2 732.3 160.3 738 154C743.7 147.7 749.8 141.7 756 136C762.2 130.3 768.5 125 775 120C781.5 115 788.3 110.2 795 106C801.7 101.8 808.3 98.3 815 95C821.7 91.7 828.8 88.7 835 86C841.2 83.3 849.2 80.2 852 79" fill="none" stroke="#8ea888" stroke-width="5" stroke-linecap="butt"/>
<g fill="url(#mg)" stroke="#3f7442" stroke-width="1.5"><circle cx="845.7" cy="83.4" r="6.3"/><circle cx="809.8" cy="93.1" r="6.3"/><circle cx="781.4" cy="122" r="6.3"/><circle cx="769.4" cy="127.6" r="6.3"/><circle cx="741.7" cy="155.6" r="6.3"/><circle cx="730.3" cy="167.6" r="6.3"/><circle cx="713.5" cy="182.8" r="6.3"/><circle cx="702.2" cy="209.6" r="6.3"/><circle cx="691.3" cy="223.8" r="6.3"/><circle cx="680.4" cy="256.3" r="6.3"/><circle cx="677.4" cy="276.8" r="6.3"/><circle cx="674.7" cy="289.3" r="6.3"/><circle cx="670.8" cy="340.4" r="6.3"/></g>
<rect x="659.3" y="34.1" width="196.4" height="342.9" fill="none" stroke="#000" stroke-width="2"/>
<path d="M659.3 128.3h8M659.3 252.7h8" fill="none" stroke="#000" stroke-width="2"/>
<path d="M659.3 65.9h4.5M659.3 190.3h4.5M659.3 315h4.5" fill="none" stroke="#000" stroke-width="2"/>
<path d="M668.3 377v-8M757.1 377v-8M846.6 377v-8" fill="none" stroke="#000" stroke-width="2"/>
<path d="M712.6 377v-4.5M801.9 377v-4.5" fill="none" stroke="#000" stroke-width="2"/>
<text x="649.5" y="134.3" text-anchor="end" font-size="22">0.4</text>
<text x="649.5" y="258.7" text-anchor="end" font-size="22">0.2</text>
<text x="649.5" y="383.8" text-anchor="end" font-size="22">0.0</text>
<text x="668.3" y="408.8" text-anchor="middle" font-size="22">0</text>
<text x="757.1" y="408.8" text-anchor="middle" font-size="22">5</text>
<text x="846.6" y="408.8" text-anchor="middle" font-size="22">10</text>
<text x="848" y="62.5" text-anchor="end" fill="#3b6e42" font-size="23"><tspan font-style="italic">t</tspan> = 0.5 s</text>
<text text-anchor="middle" transform="translate(606,190.4) rotate(-90)" font-size="27.5"><tspan font-style="italic">I</tspan><tspan baseline-shift="-5" font-size="17.1">ph</tspan> (nA)</text>
<path d="M918.6 317.2C918.9 312.1 919.6 295.6 920.3 286.3C921 277.1 921.8 270.3 922.8 261.7C923.8 253.1 924.8 244 926.5 234.5C928.2 225 930.3 214.9 932.8 204.7C935.2 194.5 938.4 183.4 941.2 173.4C944 163.4 946.7 153 949.5 144.4C952.3 135.8 955 128.5 957.8 121.6C960.6 114.7 963.3 108.1 966.1 102.9C968.9 97.7 971.6 94 974.4 90.5C977.1 87 979.2 84.2 982.6 82.2C986 80.2 990.9 78.8 994.5 78.4C998.1 78.1 1000.9 78.1 1004.4 80.1C1007.9 82.1 1012.2 86 1015.8 90.5C1019.4 95 1022.8 100.1 1026.2 107C1029.7 113.9 1033 122.9 1036.5 131.9C1040 140.9 1043.4 150.9 1046.9 160.9C1050.4 170.9 1054.3 183.4 1057.3 192C1060.2 200.6 1061.3 201.1 1064.6 212.3C1067.9 223.5 1073.2 244.8 1076.9 259.2C1080.6 273.6 1083.5 285.9 1086.8 298.7C1090.1 311.4 1094.3 326.4 1096.7 335.7C1099.1 344.9 1100.4 351.1 1101.1 354.2" fill="none" stroke="#f2b782" stroke-width="5"/>
<g fill="url(#mo)" stroke="#d9975a" stroke-width="1.5"><circle cx="994.5" cy="79.7" r="6.3"/><circle cx="1022.6" cy="85.9" r="6.3"/><circle cx="966.1" cy="100.4" r="6.3"/><circle cx="954.7" cy="111.8" r="6.3"/><circle cx="943.9" cy="117.4" r="6.3"/><circle cx="982.9" cy="116.8" r="6.3"/><circle cx="1034.2" cy="167.2" r="6.3"/><circle cx="932.9" cy="204.7" r="6.3"/><circle cx="1062.5" cy="207.8" r="6.3"/><circle cx="926.5" cy="235.3" r="6.3"/><circle cx="929.4" cy="246.1" r="6.3"/><circle cx="927.7" cy="254.8" r="6.3"/><circle cx="923.3" cy="307.3" r="6.3"/><circle cx="1097.9" cy="343.8" r="6.3"/></g>
<rect x="912" y="34.1" width="196" height="342.9" fill="none" stroke="#000" stroke-width="2"/>
<path d="M912 108.1h8M912 205.5h8M912 303.4h8" fill="none" stroke="#000" stroke-width="2"/>
<path d="M912 58.8h4.5M912 156.8h4.5M912 254.3h4.5M912 352.9h4.5" fill="none" stroke="#000" stroke-width="2"/>
<path d="M920.8 377v-8M1009.8 377v-8M1099.1 377v-8" fill="none" stroke="#000" stroke-width="2"/>
<path d="M965.2 377v-4.5M1054.2 377v-4.5" fill="none" stroke="#000" stroke-width="2"/>
<text x="904.5" y="114.1" text-anchor="end" font-size="22">0.28</text>
<text x="904.5" y="211.5" text-anchor="end" font-size="22">0.24</text>
<text x="904.5" y="309.4" text-anchor="end" font-size="22">0.20</text>
<text x="920.8" y="408.8" text-anchor="middle" font-size="22">0</text>
<text x="1009.8" y="408.8" text-anchor="middle" font-size="22">5</text>
<text x="1099.1" y="408.8" text-anchor="middle" font-size="22">10</text>
<text x="1101.5" y="62.5" text-anchor="end" fill="#e58a2e" font-size="23"><tspan font-style="italic">t</tspan> = 5 s</text>
<path d="M1166.3 70.8C1169.4 73.8 1178.8 82.8 1185 89C1191.2 95.2 1197.4 101.2 1203.6 108C1209.8 114.8 1215.9 122.3 1222 130C1228.1 137.7 1234 145.7 1240 154C1246 162.3 1252.2 171.3 1258 180C1263.8 188.7 1269.7 197.3 1275 206C1280.3 214.7 1285 223.2 1290 232C1295 240.8 1300 249.8 1305 259C1310 268.2 1315.2 277.8 1320 287C1324.8 296.2 1329.7 305.3 1334 314C1338.3 322.7 1343 332.7 1346 339C1349 345.3 1351.1 349.6 1352.1 351.7" fill="none" stroke="#7391c8" stroke-width="5"/>
<g fill="url(#mb)" stroke="#3f7fc0" stroke-width="1.5"><circle cx="1171.9" cy="77" r="6.3"/><circle cx="1176.3" cy="93.6" r="6.3"/><circle cx="1180.8" cy="104.6" r="6.3"/><circle cx="1193.3" cy="98.3" r="6.3"/><circle cx="1203.6" cy="111.2" r="6.3"/><circle cx="1215" cy="128.8" r="6.3"/><circle cx="1231.6" cy="150.6" r="6.3"/><circle cx="1243.6" cy="150" r="6.3"/><circle cx="1271.8" cy="175" r="6.3"/><circle cx="1283.5" cy="220.3" r="6.3"/><circle cx="1311.6" cy="272" r="6.3"/><circle cx="1347.4" cy="337.6" r="6.3"/></g>
<rect x="1161.2" y="34.1" width="196.2" height="342.9" fill="none" stroke="#000" stroke-width="2"/>
<path d="M1161.2 127.8h8M1161.2 252.6h8" fill="none" stroke="#000" stroke-width="2"/>
<path d="M1161.2 65.2h4.5M1161.2 190.4h4.5M1161.2 314.7h4.5" fill="none" stroke="#000" stroke-width="2"/>
<path d="M1169.8 377v-8M1259.1 377v-8M1347.9 377v-8" fill="none" stroke="#000" stroke-width="2"/>
<path d="M1214.7 377v-4.5M1303.5 377v-4.5" fill="none" stroke="#000" stroke-width="2"/>
<text x="1153.5" y="133.8" text-anchor="end" font-size="22">0.2</text>
<text x="1153.5" y="258.6" text-anchor="end" font-size="22">0.0</text>
<text x="1153.5" y="384.5" text-anchor="end" font-size="22">-0.2</text>
<text x="1169.8" y="408.8" text-anchor="middle" font-size="22">0</text>
<text x="1259.1" y="408.8" text-anchor="middle" font-size="22">5</text>
<text x="1347.9" y="408.8" text-anchor="middle" font-size="22">10</text>
<text x="1348" y="62.5" text-anchor="end" fill="#2b72b4" font-size="23"><tspan font-style="italic">t</tspan> = 10 s</text>
<text x="1025" y="441.7" text-anchor="middle" font-size="27.6">Light intensity (mW·cm<tspan baseline-shift="9.1" font-size="17.1">-2</tspan>)</text>
</g>
<g id="pc">
<text x="1376" y="22.5" font-weight="bold" font-size="30">c</text>
<rect x="1400" y="41" width="217.8" height="336" fill="url(#omg)" stroke="#a9aaae" stroke-width="3"/>
<g clip-path="url(#omc)">
<ellipse cx="1520" cy="215" rx="62" ry="70" fill="#6a4bb0" opacity="0.13"/>
<ellipse cx="1540" cy="330" rx="40" ry="45" fill="#a06a70" opacity="0.18"/>
<path d="M1466 40 L1471.4 110 L1473.2 161M1477 40 L1481 110 L1482.4 161M1488.6 40 L1490.8 110 L1491.5 161M1499.8 40 L1500.5 110 L1500.7 161M1511.8 40 L1510.3 110 L1509.8 161M1523 40 L1520 110 L1519 161M1535 40 L1529.9 110 L1528.2 161M1546.1 40 L1539.5 110 L1537.3 161M1559.9 40 L1549.8 110 L1546.5 161M1574 40 L1560.2 110 L1555.6 161M1404 40 L1428 100 L1441 183 L1447 186 L1470 186M1416 40 L1437 95 L1448 178 L1454 181 L1479 181.5M1428 40 L1446 92 L1455 172 L1461 175 L1488 176M1440 40 L1454 90 L1461 168 L1467 171 L1497 172.5M1453 40 L1462 88 L1466 166 L1472 169 L1506 171M1400 73 L1412 82 L1428 135 L1441 201 L1452 197 L1466 197M1400 99 L1412 108 L1428 157 L1441 207 L1452 203 L1471 203M1400 125 L1412 134 L1428 179 L1441 213 L1452 209 L1476 209M1400 151 L1412 160 L1428 201 L1441 219 L1452 215 L1481 215M1400 174 L1420 183 L1438 197 L1452 194 L1470 194M1400 190 L1429 212 L1441 217 L1453 209 L1470 209M1400 214 L1429 233 L1453 221 L1472 221M1400 226 L1426 243 L1453 230 L1468 230M1400 241 L1453 236 L1474 236M1400 250 L1420 250 L1453 241 L1468 241M1400 260 L1420 258 L1453 247 L1472 247M1400 270 L1453 253 L1466 253M1400 281 L1417 276 L1460 260 L1470 260M1400 290 L1419 283 L1453 267 L1468 267M1618 82 L1596 128 L1576 180 L1560 180M1618 99 L1596 139.9 L1576 186.8 L1554 186.8M1618 116 L1596 151.8 L1576 193.6 L1548 193.6M1618 133 L1596 163.7 L1576 200.4 L1560 200.4M1618 150 L1596 175.6 L1576 207.2 L1554 207.2M1618 167 L1596 187.5 L1576 214 L1548 214M1618 184 L1596 199.4 L1576 220.8 L1560 220.8M1618 201 L1596 211.3 L1576 227.6 L1554 227.6M1618 218 L1596 223.2 L1576 234.4 L1548 234.4M1618 235 L1596 235.1 L1576 241.2 L1560 241.2M1618 252 L1596 247 L1576 248 L1554 248M1618 269 L1596 258.9 L1576 254.8 L1548 254.8M1618 286 L1596 270.8 L1576 261.6 L1560 261.6M1618 303 L1596 282.7 L1576 268.4 L1554 268.4M1588 40 L1580 100 L1566 172 L1558 176M1600 40 L1590 110 L1573 182 L1560 186M1473.2 268 L1472.4 285 L1467.7 378M1482.4 268 L1482.2 285 L1478.1 378M1491.5 268 L1491.4 285 L1487.4 378M1500.7 268 L1500.6 285 L1497.2 378M1509.8 268 L1509.3 285 L1505.8 378M1519 268 L1519.1 285 L1515.1 378M1528.2 268 L1527.8 284 L1533.6 298.9 L1556.6 362.4 L1557.8 378M1537.3 268 L1538.2 282 L1548.6 298.9 L1575.1 350.8 L1585 378M1546.5 268 L1548.6 274.6 L1618 340M1555.6 268 L1561.3 270 L1618 317M1566 262 L1580 268 L1618 296M1566 256 L1590 262 L1618 282M1452 270 L1419.8 285 L1425.6 350.8 L1401.9 365.8M1470.2 171.3 L1558.6 171.3M1470.2 197.9 L1558.6 197.9M1470.2 222.3 L1558.6 222.3M1470.2 246.8 L1558.6 246.8M1470.2 257.3 L1558.6 257.3M1456 174.8 L1482.4 174.8 L1482.4 187.4M1574 174.8 L1546.5 174.8 L1546.5 187.4M1456 178 L1491.5 178 L1491.5 187.4M1574 178 L1537.3 178 L1537.3 187.4M1456 181.2 L1500.7 181.2 L1500.7 187.4M1574 181.2 L1528.2 181.2 L1528.2 187.4M1456 201.4 L1482.4 201.4 L1482.4 211.8M1574 201.4 L1546.5 201.4 L1546.5 211.8M1456 204.6 L1491.5 204.6 L1491.5 211.8M1574 204.6 L1537.3 204.6 L1537.3 211.8M1456 207.8 L1500.7 207.8 L1500.7 211.8M1574 207.8 L1528.2 207.8 L1528.2 211.8M1456 225.8 L1482.4 225.8 L1482.4 236.3M1574 225.8 L1546.5 225.8 L1546.5 236.3M1456 229 L1491.5 229 L1491.5 236.3M1574 229 L1537.3 229 L1537.3 236.3M1456 232.2 L1500.7 232.2 L1500.7 236.3M1574 232.2 L1528.2 232.2 L1528.2 236.3M1456 250.3 L1482.4 250.3 L1482.4 257.8M1574 250.3 L1546.5 250.3 L1546.5 257.8M1456 253.5 L1491.5 253.5 L1491.5 257.8M1574 253.5 L1537.3 253.5 L1537.3 257.8M1456 256.7 L1500.7 256.7 L1500.7 257.8M1574 256.7 L1528.2 256.7 L1528.2 257.8" fill="none" stroke="#6a2050" stroke-width="3.2" opacity="0.3"/>
<path d="M1466 40 L1471.4 110 L1473.2 161M1477 40 L1481 110 L1482.4 161M1488.6 40 L1490.8 110 L1491.5 161M1499.8 40 L1500.5 110 L1500.7 161M1511.8 40 L1510.3 110 L1509.8 161M1523 40 L1520 110 L1519 161M1535 40 L1529.9 110 L1528.2 161M1546.1 40 L1539.5 110 L1537.3 161M1559.9 40 L1549.8 110 L1546.5 161M1574 40 L1560.2 110 L1555.6 161M1404 40 L1428 100 L1441 183 L1447 186 L1470 186M1416 40 L1437 95 L1448 178 L1454 181 L1479 181.5M1428 40 L1446 92 L1455 172 L1461 175 L1488 176M1440 40 L1454 90 L1461 168 L1467 171 L1497 172.5M1453 40 L1462 88 L1466 166 L1472 169 L1506 171M1400 73 L1412 82 L1428 135 L1441 201 L1452 197 L1466 197M1400 99 L1412 108 L1428 157 L1441 207 L1452 203 L1471 203M1400 125 L1412 134 L1428 179 L1441 213 L1452 209 L1476 209M1400 151 L1412 160 L1428 201 L1441 219 L1452 215 L1481 215M1400 174 L1420 183 L1438 197 L1452 194 L1470 194M1400 190 L1429 212 L1441 217 L1453 209 L1470 209M1400 214 L1429 233 L1453 221 L1472 221M1400 226 L1426 243 L1453 230 L1468 230M1400 241 L1453 236 L1474 236M1400 250 L1420 250 L1453 241 L1468 241M1400 260 L1420 258 L1453 247 L1472 247M1400 270 L1453 253 L1466 253M1400 281 L1417 276 L1460 260 L1470 260M1400 290 L1419 283 L1453 267 L1468 267M1618 82 L1596 128 L1576 180 L1560 180M1618 99 L1596 139.9 L1576 186.8 L1554 186.8M1618 116 L1596 151.8 L1576 193.6 L1548 193.6M1618 133 L1596 163.7 L1576 200.4 L1560 200.4M1618 150 L1596 175.6 L1576 207.2 L1554 207.2M1618 167 L1596 187.5 L1576 214 L1548 214M1618 184 L1596 199.4 L1576 220.8 L1560 220.8M1618 201 L1596 211.3 L1576 227.6 L1554 227.6M1618 218 L1596 223.2 L1576 234.4 L1548 234.4M1618 235 L1596 235.1 L1576 241.2 L1560 241.2M1618 252 L1596 247 L1576 248 L1554 248M1618 269 L1596 258.9 L1576 254.8 L1548 254.8M1618 286 L1596 270.8 L1576 261.6 L1560 261.6M1618 303 L1596 282.7 L1576 268.4 L1554 268.4M1588 40 L1580 100 L1566 172 L1558 176M1600 40 L1590 110 L1573 182 L1560 186M1473.2 268 L1472.4 285 L1467.7 378M1482.4 268 L1482.2 285 L1478.1 378M1491.5 268 L1491.4 285 L1487.4 378M1500.7 268 L1500.6 285 L1497.2 378M1509.8 268 L1509.3 285 L1505.8 378M1519 268 L1519.1 285 L1515.1 378M1528.2 268 L1527.8 284 L1533.6 298.9 L1556.6 362.4 L1557.8 378M1537.3 268 L1538.2 282 L1548.6 298.9 L1575.1 350.8 L1585 378M1546.5 268 L1548.6 274.6 L1618 340M1555.6 268 L1561.3 270 L1618 317M1566 262 L1580 268 L1618 296M1566 256 L1590 262 L1618 282M1452 270 L1419.8 285 L1425.6 350.8 L1401.9 365.8M1470.2 171.3 L1558.6 171.3M1470.2 197.9 L1558.6 197.9M1470.2 222.3 L1558.6 222.3M1470.2 246.8 L1558.6 246.8M1470.2 257.3 L1558.6 257.3M1456 174.8 L1482.4 174.8 L1482.4 187.4M1574 174.8 L1546.5 174.8 L1546.5 187.4M1456 178 L1491.5 178 L1491.5 187.4M1574 178 L1537.3 178 L1537.3 187.4M1456 181.2 L1500.7 181.2 L1500.7 187.4M1574 181.2 L1528.2 181.2 L1528.2 187.4M1456 201.4 L1482.4 201.4 L1482.4 211.8M1574 201.4 L1546.5 201.4 L1546.5 211.8M1456 204.6 L1491.5 204.6 L1491.5 211.8M1574 204.6 L1537.3 204.6 L1537.3 211.8M1456 207.8 L1500.7 207.8 L1500.7 211.8M1574 207.8 L1528.2 207.8 L1528.2 211.8M1456 225.8 L1482.4 225.8 L1482.4 236.3M1574 225.8 L1546.5 225.8 L1546.5 236.3M1456 229 L1491.5 229 L1491.5 236.3M1574 229 L1537.3 229 L1537.3 236.3M1456 232.2 L1500.7 232.2 L1500.7 236.3M1574 232.2 L1528.2 232.2 L1528.2 236.3M1456 250.3 L1482.4 250.3 L1482.4 257.8M1574 250.3 L1546.5 250.3 L1546.5 257.8M1456 253.5 L1491.5 253.5 L1491.5 257.8M1574 253.5 L1537.3 253.5 L1537.3 257.8M1456 256.7 L1500.7 256.7 L1500.7 257.8M1574 256.7 L1528.2 256.7 L1528.2 257.8" fill="none" stroke="#f6e88e" stroke-width="1.95" stroke-linejoin="round"/>
<path d="M1401 366.5L1411 360.5" stroke="#f3e27e" stroke-width="4.5"/>
<path d="M1470.4 161.2h5.6v1.5h-5.6ZM1479.6 161.2h5.6v1.5h-5.6ZM1488.7 161.2h5.6v1.5h-5.6ZM1497.9 161.2h5.6v1.5h-5.6ZM1507 161.2h5.6v1.5h-5.6ZM1516.2 161.2h5.6v1.5h-5.6ZM1525.4 161.2h5.6v1.5h-5.6ZM1534.5 161.2h5.6v1.5h-5.6ZM1543.7 161.2h5.6v1.5h-5.6ZM1552.8 161.2h5.6v1.5h-5.6ZM1470.4 187.8h5.6v1.5h-5.6ZM1479.6 187.8h5.6v1.5h-5.6ZM1488.7 187.8h5.6v1.5h-5.6ZM1497.9 187.8h5.6v1.5h-5.6ZM1507 187.8h5.6v1.5h-5.6ZM1516.2 187.8h5.6v1.5h-5.6ZM1525.4 187.8h5.6v1.5h-5.6ZM1534.5 187.8h5.6v1.5h-5.6ZM1543.7 187.8h5.6v1.5h-5.6ZM1552.8 187.8h5.6v1.5h-5.6ZM1470.4 212.2h5.6v1.5h-5.6ZM1479.6 212.2h5.6v1.5h-5.6ZM1488.7 212.2h5.6v1.5h-5.6ZM1497.9 212.2h5.6v1.5h-5.6ZM1507 212.2h5.6v1.5h-5.6ZM1516.2 212.2h5.6v1.5h-5.6ZM1525.4 212.2h5.6v1.5h-5.6ZM1534.5 212.2h5.6v1.5h-5.6ZM1543.7 212.2h5.6v1.5h-5.6ZM1552.8 212.2h5.6v1.5h-5.6ZM1470.4 236.7h5.6v1.5h-5.6ZM1479.6 236.7h5.6v1.5h-5.6ZM1488.7 236.7h5.6v1.5h-5.6ZM1497.9 236.7h5.6v1.5h-5.6ZM1507 236.7h5.6v1.5h-5.6ZM1516.2 236.7h5.6v1.5h-5.6ZM1525.4 236.7h5.6v1.5h-5.6ZM1534.5 236.7h5.6v1.5h-5.6ZM1543.7 236.7h5.6v1.5h-5.6ZM1552.8 236.7h5.6v1.5h-5.6ZM1470.4 266.2h5.6v1.5h-5.6ZM1479.6 266.2h5.6v1.5h-5.6ZM1488.7 266.2h5.6v1.5h-5.6ZM1497.9 266.2h5.6v1.5h-5.6ZM1507 266.2h5.6v1.5h-5.6ZM1516.2 266.2h5.6v1.5h-5.6ZM1525.4 266.2h5.6v1.5h-5.6ZM1534.5 266.2h5.6v1.5h-5.6ZM1543.7 266.2h5.6v1.5h-5.6ZM1552.8 266.2h5.6v1.5h-5.6Z" fill="#f3e48c"/><path d="M1471.3 162.6h3.8v6.4h-3.8ZM1480.5 162.6h3.8v6.4h-3.8ZM1489.6 162.6h3.8v6.4h-3.8ZM1498.8 162.6h3.8v6.4h-3.8ZM1507.9 162.6h3.8v6.4h-3.8ZM1517.1 162.6h3.8v6.4h-3.8ZM1526.3 162.6h3.8v6.4h-3.8ZM1535.4 162.6h3.8v6.4h-3.8ZM1544.6 162.6h3.8v6.4h-3.8ZM1553.7 162.6h3.8v6.4h-3.8ZM1471.3 189.2h3.8v6.4h-3.8ZM1480.5 189.2h3.8v6.4h-3.8ZM1489.6 189.2h3.8v6.4h-3.8ZM1498.8 189.2h3.8v6.4h-3.8ZM1507.9 189.2h3.8v6.4h-3.8ZM1517.1 189.2h3.8v6.4h-3.8ZM1526.3 189.2h3.8v6.4h-3.8ZM1535.4 189.2h3.8v6.4h-3.8ZM1544.6 189.2h3.8v6.4h-3.8ZM1553.7 189.2h3.8v6.4h-3.8ZM1471.3 213.6h3.8v6.4h-3.8ZM1480.5 213.6h3.8v6.4h-3.8ZM1489.6 213.6h3.8v6.4h-3.8ZM1498.8 213.6h3.8v6.4h-3.8ZM1507.9 213.6h3.8v6.4h-3.8ZM1517.1 213.6h3.8v6.4h-3.8ZM1526.3 213.6h3.8v6.4h-3.8ZM1535.4 213.6h3.8v6.4h-3.8ZM1544.6 213.6h3.8v6.4h-3.8ZM1553.7 213.6h3.8v6.4h-3.8ZM1471.3 238.1h3.8v6.4h-3.8ZM1480.5 238.1h3.8v6.4h-3.8ZM1489.6 238.1h3.8v6.4h-3.8ZM1498.8 238.1h3.8v6.4h-3.8ZM1507.9 238.1h3.8v6.4h-3.8ZM1517.1 238.1h3.8v6.4h-3.8ZM1526.3 238.1h3.8v6.4h-3.8ZM1535.4 238.1h3.8v6.4h-3.8ZM1544.6 238.1h3.8v6.4h-3.8ZM1553.7 238.1h3.8v6.4h-3.8ZM1471.3 259.6h3.8v6.4h-3.8ZM1480.5 259.6h3.8v6.4h-3.8ZM1489.6 259.6h3.8v6.4h-3.8ZM1498.8 259.6h3.8v6.4h-3.8ZM1507.9 259.6h3.8v6.4h-3.8ZM1517.1 259.6h3.8v6.4h-3.8ZM1526.3 259.6h3.8v6.4h-3.8ZM1535.4 259.6h3.8v6.4h-3.8ZM1544.6 259.6h3.8v6.4h-3.8ZM1553.7 259.6h3.8v6.4h-3.8Z" fill="#2fa3dc"/>
<path d="M1443 191l6 1-3 6Z" fill="#4fb070"/><path d="M1430 213l8 4-2 7Z" fill="#3f8fb0"/><path d="M1557 317l12-9 6 5-8 6Z" fill="#5a50c8" opacity="0.9"/>
<rect x="1436" y="47.2" width="150" height="33.5" fill="#fff" opacity="0.22"/>
<text x="1510.2" y="71.2" text-anchor="middle" fill="#e4dde6" font-size="27.6" opacity="0.92">CIPS array</text>
<rect x="1569.8" y="359.7" width="37.1" height="8" fill="#fff"/>
</g>
<rect x="1452.5" y="150.3" width="123.7" height="134" fill="none" stroke="#231815" stroke-width="1.7"/>
<path d="M1576.2 150.3L1634 41M1576.2 284.3L1634 379" fill="none" stroke="#231815" stroke-width="1.8"/>
<g clip-path="url(#semc)">
<rect x="1634.5" y="41" width="355" height="338" fill="url(#semg)"/>
<path d="M1696.1 70.5h10.2v10.9h-10.2ZM1698.5 138.1h10.2v15.1h-10.2ZM1702.1 321.7h10.2v12.4h-10.2ZM1720.6 70.5h10.2v10.9h-10.2ZM1722.9 138.1h10.2v15.1h-10.2ZM1726.5 321.7h10.2v12.4h-10.2ZM1745 70.5h10.2v10.9h-10.2ZM1747.3 138.1h10.2v15.1h-10.2ZM1751 321.7h10.2v12.4h-10.2ZM1769.4 70.5h10.2v10.9h-10.2ZM1771.7 138.1h10.2v15.1h-10.2ZM1775.4 321.7h10.2v12.4h-10.2ZM1793.8 70.5h10.2v10.9h-10.2ZM1796.1 138.1h10.2v15.1h-10.2ZM1799.8 321.7h10.2v12.4h-10.2ZM1818.2 70.5h10.2v10.9h-10.2ZM1820.5 138.1h10.2v15.1h-10.2ZM1824.2 321.7h10.2v12.4h-10.2ZM1842.6 70.5h10.2v10.9h-10.2ZM1844.9 138.1h10.2v15.1h-10.2ZM1848.6 321.7h10.2v12.4h-10.2ZM1867 70.5h10.2v10.9h-10.2ZM1869.3 138.1h10.2v15.1h-10.2ZM1873 321.7h10.2v12.4h-10.2ZM1891.4 70.5h10.2v10.9h-10.2ZM1893.7 138.1h10.2v15.1h-10.2ZM1897.4 321.7h10.2v12.4h-10.2ZM1915.8 70.5h10.2v10.9h-10.2ZM1918.2 138.1h10.2v15.1h-10.2ZM1921.8 321.7h10.2v12.4h-10.2ZM1698.5 201.5h10.2v14.4h-10.2ZM1723 201.5h10.2v14.4h-10.2ZM1747.6 201.5h10.2v14.4h-10.2ZM1772.1 201.5h10.2v14.4h-10.2ZM1797.2 197.7h9.1v16.7h-9.1ZM1809 197.7h9.1v16.7h-9.1ZM1820.8 197.7h9.1v16.7h-9.1ZM1845.2 199.5h10.2v14.2h-10.2ZM1869.3 199.5h10.2v14.2h-10.2ZM1893.9 199.5h10.2v14.2h-10.2ZM1917.5 199.5h10.2v14.2h-10.2ZM1698.5 263.1h10.2v15.4h-10.2ZM1723 263.1h10.2v15.4h-10.2ZM1747.6 263.1h10.2v15.4h-10.2ZM1772.1 262.2h10.2v17.3h-10.2ZM1795.7 262.2h10.2v17.3h-10.2ZM1820.3 262.2h10.2v17.3h-10.2ZM1843 262.2h10.2v17.3h-10.2ZM1869.3 261.3h10.2v14.2h-10.2ZM1893.9 261.3h10.2v14.2h-10.2ZM1917.5 261.3h10.2v14.2h-10.2Z" fill="#cc8463" opacity="0.65"/>
<rect x="1634.5" y="41" width="355" height="338" filter="url(#nz)" opacity="0.55"/>
<ellipse cx="1946.2" cy="106" rx="20" ry="4.5" fill="#f5be86"/>
<ellipse cx="1939.2" cy="104.5" rx="6" ry="1.6" fill="#5a2c18"/>
<g fill="none" stroke-linejoin="miter" transform="translate(0.9,-1.3)" opacity="0.85" filter="url(#sb)"><path d="M1701.2 39.6 L1701.2 63.3M1725.6 39.6 L1725.6 63.3M1750 39.6 L1750 63.3M1774.4 39.6 L1774.4 63.3M1798.9 39.6 L1798.9 63.3M1823.3 39.6 L1823.3 63.3M1847.7 39.6 L1847.7 63.3M1872.1 39.6 L1872.1 63.3M1896.5 39.6 L1896.5 63.3M1920.9 39.6 L1920.9 63.3M1668.2 39.6 L1671.4 96.9 L1803.5 96.9 L1803.5 133.2M1947.1 39.6 L1941.1 94.2 L1825.3 94.2 L1825.3 133.2M1647.3 39.6 L1661.8 106 L1778.1 106 L1778.1 133.2M1991.6 56 L1968 103.6 L1850.8 103.6 L1850.8 133.2M1635.5 116 L1752.7 115 L1752.7 133.2M1991.6 115.6 L1942.6 121.4 L1929.8 114.5 L1875.3 114.5 L1875.3 133.2M1635.5 145 L1648.2 125 L1728.1 125 L1728.1 133.2M1991.6 132.3 L1938.9 134.1 L1937.1 126.3 L1899.9 126.3 L1899.9 133.2M1635.5 155.6 L1657.3 153.8 L1683.4 135.6 L1712.5 135.6M1915.3 135 L1931.7 135 L1932.6 143.2 L1991.6 140.5M1932.6 156.3 L1991.6 154.1M1635.5 174.5 L1675.2 167.7 L1777 167.7 L1777 197.7M1635.5 191.7 L1643.1 184.8 L1686.3 178.3 L1753.4 178.3 L1753.4 197.7M1635.5 218.6 L1650.2 199.5 L1686.3 189.4 L1728.1 189.4 L1728.1 197.7M1640.9 239.5 L1689.4 199.5 L1712.5 199.5M1691.4 218.3 L1789.5 218.3 L1789.5 197.2 L1837.2 197.2 L1837.2 214.4 L1991.6 217.2M1991.6 166.3 L1849.9 165.4 L1849.9 195M1991.6 176.3 L1874.4 174.5 L1874.4 195M1991.6 188.1 L1900.8 186.3 L1900.8 195M1915.3 195.4 L1931.7 195.4 L1991.6 202.6M1801.7 217.7 L1801.7 229 L1682.7 229 L1635.5 246.8M1823.5 217.7 L1823.5 226.3 L1948 226.3 L1991.6 233.9M1635.5 261.3 L1684.5 240.8 L1753.6 240.8 L1753.6 259.9M1635.5 275.9 L1686.3 252.1 L1729.9 252.1 L1729.9 259.9M1635.5 290.4 L1648.2 284.4 L1691.8 259.3 L1711.8 259.3M1635.5 303.1 L1648.2 298.9 L1690 281.7 L1764.5 281.7 L1764.5 260.8 L1862.6 260.8 L1862.6 277.1 L1911.7 277.1 L1913.5 274.4 L1938.9 274.4 L1991.6 294.2M1991.6 246.6 L1948 237.2 L1874.4 237.2 L1874.4 258.1M1991.6 257.5 L1946.2 247.2 L1898.9 247.2 L1898.9 258.1M1915.3 255.3 L1946.2 255.3 L1991.6 268.6M1778.1 280.4 L1778.1 290.6 L1688.2 290.6 L1653.6 308.9 L1635.5 316.8M1800.8 280.4 L1800.8 302.6 L1691.8 302.6 L1659.1 321.7 L1635.5 331.3M1823.5 280.4 L1823.5 300.8 L1942.6 300.8 L1991.6 328M1847.2 280.4 L1847.2 289 L1940.7 289 L1991.6 313.5M1706.7 337.7 L1706.3 381.3M1731.2 337.7 L1730.9 381.3M1754.8 337.7 L1754.5 381.3M1779.4 337.7 L1779 381.3M1803.5 337.7 L1803.2 381.3M1827.9 337.7 L1827.5 381.3M1852.6 337.7 L1860.4 381.3M1877.1 337.7 L1888.4 381.3M1901.7 337.7 L1906.2 356.2 L1938.9 379.4M1928 335.8 L1938 335.8 L1991.6 377.6" stroke="#6a351f" stroke-width="6"/><path d="M1681.4 39.6 L1681.4 83.6 L1928.9 83.6M1690 156.8 L1932.6 156.8M1697.2 316.8 L1937.1 316.8 L1991.6 350.6M1635.5 355.8 L1668.5 336.2" stroke="#6a351f" stroke-width="7.5"/><path d="M1692.5 61.4h17.4v9.1h-17.4ZM1716.9 61.4h17.4v9.1h-17.4ZM1741.3 61.4h17.4v9.1h-17.4ZM1765.7 61.4h17.4v9.1h-17.4ZM1790.1 61.4h17.4v9.1h-17.4ZM1814.5 61.4h17.4v9.1h-17.4ZM1838.9 61.4h17.4v9.1h-17.4ZM1863.3 61.4h17.4v9.1h-17.4ZM1887.8 61.4h17.4v9.1h-17.4ZM1912.2 61.4h17.4v9.1h-17.4ZM1718.5 132.3h17.4v5.8h-17.4ZM1743 132.3h17.4v5.8h-17.4ZM1768.5 132.3h17.4v5.8h-17.4ZM1793 132.3h17.4v5.8h-17.4ZM1816.6 132.3h17.4v5.8h-17.4ZM1841.5 132.3h17.4v5.8h-17.4ZM1866.2 132.3h17.4v5.8h-17.4ZM1891.1 132.3h17.4v5.8h-17.4ZM1718.5 196.5h17.4v5.3h-17.4ZM1743.6 196.5h17.4v5.3h-17.4ZM1767 196.5h17.4v5.3h-17.4ZM1841.5 194.5h17.4v5.1h-17.4ZM1865.7 194.5h17.4v5.1h-17.4ZM1890.2 194.5h17.4v5.1h-17.4ZM1794.1 215.9h15.3v3.6h-15.3ZM1816.4 215.9h15.3v3.6h-15.3ZM1718.5 258.4h17.4v4.7h-17.4ZM1742.5 258.4h17.4v4.7h-17.4ZM1865.7 256.6h17.4v4.7h-17.4ZM1889.9 256.6h17.4v4.7h-17.4ZM1769.6 277.7h15.3v4.4h-15.3ZM1791.9 277.7h17.1v4.4h-17.1ZM1816.3 277.7h17.1v4.4h-17.1ZM1841.3 277.7h14.5v4.4h-14.5ZM1698.1 334.4h18.2v7.3h-18.2ZM1722.7 334.4h18.2v7.3h-18.2ZM1746.3 334.4h18.2v7.3h-18.2ZM1770.8 334.4h18.2v7.3h-18.2ZM1795 334.4h18.2v7.3h-18.2ZM1819.4 334.4h18.2v7.3h-18.2ZM1843.5 334.4h18.2v7.3h-18.2ZM1868.1 334.4h18.2v7.3h-18.2ZM1892.6 334.4h18.2v7.3h-18.2ZM1918 334.4h18.2v7.3h-18.2Z" fill="#6a351f" stroke="#6a351f" stroke-width="1.5"/></g>
<g fill="none" stroke="#f6c087" stroke-linejoin="miter"><path d="M1701.2 39.6 L1701.2 63.3M1725.6 39.6 L1725.6 63.3M1750 39.6 L1750 63.3M1774.4 39.6 L1774.4 63.3M1798.9 39.6 L1798.9 63.3M1823.3 39.6 L1823.3 63.3M1847.7 39.6 L1847.7 63.3M1872.1 39.6 L1872.1 63.3M1896.5 39.6 L1896.5 63.3M1920.9 39.6 L1920.9 63.3M1668.2 39.6 L1671.4 96.9 L1803.5 96.9 L1803.5 133.2M1947.1 39.6 L1941.1 94.2 L1825.3 94.2 L1825.3 133.2M1647.3 39.6 L1661.8 106 L1778.1 106 L1778.1 133.2M1991.6 56 L1968 103.6 L1850.8 103.6 L1850.8 133.2M1635.5 116 L1752.7 115 L1752.7 133.2M1991.6 115.6 L1942.6 121.4 L1929.8 114.5 L1875.3 114.5 L1875.3 133.2M1635.5 145 L1648.2 125 L1728.1 125 L1728.1 133.2M1991.6 132.3 L1938.9 134.1 L1937.1 126.3 L1899.9 126.3 L1899.9 133.2M1635.5 155.6 L1657.3 153.8 L1683.4 135.6 L1712.5 135.6M1915.3 135 L1931.7 135 L1932.6 143.2 L1991.6 140.5M1932.6 156.3 L1991.6 154.1M1635.5 174.5 L1675.2 167.7 L1777 167.7 L1777 197.7M1635.5 191.7 L1643.1 184.8 L1686.3 178.3 L1753.4 178.3 L1753.4 197.7M1635.5 218.6 L1650.2 199.5 L1686.3 189.4 L1728.1 189.4 L1728.1 197.7M1640.9 239.5 L1689.4 199.5 L1712.5 199.5M1691.4 218.3 L1789.5 218.3 L1789.5 197.2 L1837.2 197.2 L1837.2 214.4 L1991.6 217.2M1991.6 166.3 L1849.9 165.4 L1849.9 195M1991.6 176.3 L1874.4 174.5 L1874.4 195M1991.6 188.1 L1900.8 186.3 L1900.8 195M1915.3 195.4 L1931.7 195.4 L1991.6 202.6M1801.7 217.7 L1801.7 229 L1682.7 229 L1635.5 246.8M1823.5 217.7 L1823.5 226.3 L1948 226.3 L1991.6 233.9M1635.5 261.3 L1684.5 240.8 L1753.6 240.8 L1753.6 259.9M1635.5 275.9 L1686.3 252.1 L1729.9 252.1 L1729.9 259.9M1635.5 290.4 L1648.2 284.4 L1691.8 259.3 L1711.8 259.3M1635.5 303.1 L1648.2 298.9 L1690 281.7 L1764.5 281.7 L1764.5 260.8 L1862.6 260.8 L1862.6 277.1 L1911.7 277.1 L1913.5 274.4 L1938.9 274.4 L1991.6 294.2M1991.6 246.6 L1948 237.2 L1874.4 237.2 L1874.4 258.1M1991.6 257.5 L1946.2 247.2 L1898.9 247.2 L1898.9 258.1M1915.3 255.3 L1946.2 255.3 L1991.6 268.6M1778.1 280.4 L1778.1 290.6 L1688.2 290.6 L1653.6 308.9 L1635.5 316.8M1800.8 280.4 L1800.8 302.6 L1691.8 302.6 L1659.1 321.7 L1635.5 331.3M1823.5 280.4 L1823.5 300.8 L1942.6 300.8 L1991.6 328M1847.2 280.4 L1847.2 289 L1940.7 289 L1991.6 313.5M1706.7 337.7 L1706.3 381.3M1731.2 337.7 L1730.9 381.3M1754.8 337.7 L1754.5 381.3M1779.4 337.7 L1779 381.3M1803.5 337.7 L1803.2 381.3M1827.9 337.7 L1827.5 381.3M1852.6 337.7 L1860.4 381.3M1877.1 337.7 L1888.4 381.3M1901.7 337.7 L1906.2 356.2 L1938.9 379.4M1928 335.8 L1938 335.8 L1991.6 377.6" stroke-width="4.3"/><path d="M1681.4 39.6 L1681.4 83.6 L1928.9 83.6M1690 156.8 L1932.6 156.8M1697.2 316.8 L1937.1 316.8 L1991.6 350.6M1635.5 355.8 L1668.5 336.2" stroke-width="5.6"/><path d="M1692.5 61.4h17.4v9.1h-17.4ZM1716.9 61.4h17.4v9.1h-17.4ZM1741.3 61.4h17.4v9.1h-17.4ZM1765.7 61.4h17.4v9.1h-17.4ZM1790.1 61.4h17.4v9.1h-17.4ZM1814.5 61.4h17.4v9.1h-17.4ZM1838.9 61.4h17.4v9.1h-17.4ZM1863.3 61.4h17.4v9.1h-17.4ZM1887.8 61.4h17.4v9.1h-17.4ZM1912.2 61.4h17.4v9.1h-17.4ZM1718.5 132.3h17.4v5.8h-17.4ZM1743 132.3h17.4v5.8h-17.4ZM1768.5 132.3h17.4v5.8h-17.4ZM1793 132.3h17.4v5.8h-17.4ZM1816.6 132.3h17.4v5.8h-17.4ZM1841.5 132.3h17.4v5.8h-17.4ZM1866.2 132.3h17.4v5.8h-17.4ZM1891.1 132.3h17.4v5.8h-17.4ZM1718.5 196.5h17.4v5.3h-17.4ZM1743.6 196.5h17.4v5.3h-17.4ZM1767 196.5h17.4v5.3h-17.4ZM1841.5 194.5h17.4v5.1h-17.4ZM1865.7 194.5h17.4v5.1h-17.4ZM1890.2 194.5h17.4v5.1h-17.4ZM1794.1 215.9h15.3v3.6h-15.3ZM1816.4 215.9h15.3v3.6h-15.3ZM1718.5 258.4h17.4v4.7h-17.4ZM1742.5 258.4h17.4v4.7h-17.4ZM1865.7 256.6h17.4v4.7h-17.4ZM1889.9 256.6h17.4v4.7h-17.4ZM1769.6 277.7h15.3v4.4h-15.3ZM1791.9 277.7h17.1v4.4h-17.1ZM1816.3 277.7h17.1v4.4h-17.1ZM1841.3 277.7h14.5v4.4h-14.5ZM1698.1 334.4h18.2v7.3h-18.2ZM1722.7 334.4h18.2v7.3h-18.2ZM1746.3 334.4h18.2v7.3h-18.2ZM1770.8 334.4h18.2v7.3h-18.2ZM1795 334.4h18.2v7.3h-18.2ZM1819.4 334.4h18.2v7.3h-18.2ZM1843.5 334.4h18.2v7.3h-18.2ZM1868.1 334.4h18.2v7.3h-18.2ZM1892.6 334.4h18.2v7.3h-18.2ZM1918 334.4h18.2v7.3h-18.2Z" fill="#f6c087" stroke="none"/></g>
<circle cx="1965" cy="160" r="2" fill="#1a0c06"/><circle cx="1962" cy="172" r="2.2" fill="#1a0c06"/>
<rect x="1737" y="46" width="150" height="33.7" fill="#a08070" opacity="0.55"/>
<text x="1815.3" y="72.6" text-anchor="middle" fill="#fff" font-size="28">5×10 pixels</text>
<rect x="1916.7" y="359.7" width="53.3" height="7.8" fill="#fff"/>
</g>
<rect x="1634.6" y="41" width="355.6" height="338" fill="none" stroke="#231815" stroke-width="2.5"/>
</g>
<g id="pd">
<text x="0" y="516.4" font-weight="bold" font-size="30">d</text>
<rect x="71.5" y="522.6" width="300.7" height="119.8" fill="#747478"/>
<rect x="71.5" y="522.6" width="30.3" height="24.2" fill="#79797d"/>
<rect x="101.6" y="522.6" width="30.3" height="24.2" fill="#7b7b7f"/>
<rect x="161.7" y="522.6" width="30.3" height="24.2" fill="#6f6f73"/>
<rect x="191.8" y="522.6" width="30.3" height="24.2" fill="#6f6f73"/>
<rect x="221.8" y="522.6" width="30.3" height="24.2" fill="#757579"/>
<rect x="282" y="522.6" width="30.3" height="24.2" fill="#79797d"/>
<rect x="342.1" y="522.6" width="30.3" height="24.2" fill="#7f7f83"/>
<rect x="101.6" y="546.6" width="30.3" height="24.2" fill="#818185"/>
<rect x="131.6" y="546.6" width="30.3" height="24.2" fill="#7b7b7f"/>
<rect x="221.8" y="546.6" width="30.3" height="24.2" fill="#858589"/>
<rect x="251.9" y="546.6" width="30.3" height="24.2" fill="#7d7d81"/>
<rect x="282" y="546.6" width="30.3" height="24.2" fill="#77777b"/>
<rect x="312.1" y="546.6" width="30.3" height="24.2" fill="#77777b"/>
<rect x="342.1" y="546.6" width="30.3" height="24.2" fill="#717175"/>
<rect x="71.5" y="570.5" width="30.3" height="24.2" fill="#717175"/>
<rect x="101.6" y="570.5" width="30.3" height="24.2" fill="#6d6d71"/>
<rect x="131.6" y="570.5" width="30.3" height="24.2" fill="#7d7d81"/>
<rect x="161.7" y="570.5" width="30.3" height="24.2" fill="#838387"/>
<rect x="191.8" y="570.5" width="30.3" height="24.2" fill="#717175"/>
<rect x="312.1" y="570.5" width="30.3" height="24.2" fill="#757579"/>
<rect x="342.1" y="570.5" width="30.3" height="24.2" fill="#69696d"/>
<rect x="71.5" y="594.5" width="30.3" height="24.2" fill="#7b7b7f"/>
<rect x="101.6" y="594.5" width="30.3" height="24.2" fill="#757579"/>
<rect x="131.6" y="594.5" width="30.3" height="24.2" fill="#717175"/>
<rect x="161.7" y="594.5" width="30.3" height="24.2" fill="#7d7d81"/>
<rect x="251.9" y="594.5" width="30.3" height="24.2" fill="#7d7d81"/>
<rect x="282" y="594.5" width="30.3" height="24.2" fill="#7d7d81"/>
<rect x="312.1" y="594.5" width="30.3" height="24.2" fill="#7b7b7f"/>
<rect x="342.1" y="594.5" width="30.3" height="24.2" fill="#79797d"/>
<rect x="71.5" y="618.4" width="30.3" height="24.2" fill="#717175"/>
<rect x="101.6" y="618.4" width="30.3" height="24.2" fill="#67676b"/>
<rect x="131.6" y="618.4" width="30.3" height="24.2" fill="#858589"/>
<rect x="161.7" y="618.4" width="30.3" height="24.2" fill="#717175"/>
<rect x="191.8" y="618.4" width="30.3" height="24.2" fill="#7f7f83"/>
<rect x="312.1" y="618.4" width="30.3" height="24.2" fill="#757579"/>
<rect x="342.1" y="618.4" width="30.3" height="24.2" fill="#77777b"/>
<rect x="71.5" y="522.6" width="300.7" height="119.8" fill="none" stroke="#333" stroke-width="1.6"/>
<path d="M71.5 534.6h3.5M71.5 558.5h3.5M71.5 582.5h3.5M71.5 606.5h3.5M71.5 630.4h3.5" fill="none" stroke="#333" stroke-width="1.2"/>
<path d="M116.6 642.4v-3.5M176.7 642.4v-3.5M236.9 642.4v-3.5M297 642.4v-3.5M357.2 642.4v-3.5" fill="none" stroke="#333" stroke-width="1.2"/>
<rect x="378.8" y="522.6" width="15.8" height="119.8" fill="url(#gwb)" stroke="#333" stroke-width="1.6"/>
<text x="401" y="546.2" fill="#262626" font-size="24">1.56</text>
<text x="401" y="577.5" fill="#262626" font-size="24">1.52</text>
<text x="401" y="608.9" fill="#262626" font-size="24">1.48</text>
<text x="401" y="641.1" fill="#262626" font-size="24">1.44</text>
<text text-anchor="middle" fill="#262626" transform="translate(456,587) rotate(90)" font-size="23"><tspan font-style="italic">I</tspan><tspan baseline-shift="-4.1" font-size="14.3">dark</tspan> (nA)</text>
<text text-anchor="middle" fill="#262626" transform="translate(40.7,582.3) rotate(-90)" font-size="24.1">Dark image</text>
<path d="M233.9 951.6v-21.9h4.8v21.9M238.7 951.6v-43.9h4.8v43.9M243.5 951.6v-43.9h4.8v43.9M248.3 951.6v-175.6h4.8v175.6M253.1 951.6v-87.8h4.8v87.8M257.9 951.6v-65.8h4.8v65.8M262.6 951.6v-43.9h4.8v43.9M267.4 951.6v-54.9h4.8v54.9M272.2 951.6v-11h4.8v11" fill="#d9bcb6" stroke="#1a1a1a" stroke-width="1.2"/>
<path d="M81.2 951.6 L93.2 951.6 L105.2 951.6 L117.2 951.6 L129.2 951.6 L141.2 951.6 L153.2 951.6 L165.2 951.6 L177.2 951.6 L189.2 951.6 L201.2 951.6 L213.2 951.6 L225.2 950.3 L226.7 949.4 L228.2 948.2 L229.7 946.3 L231.2 943.7 L232.7 940 L234.2 935 L235.7 928.5 L237.2 920.1 L238.7 909.8 L240.2 897.5 L241.7 883.2 L243.2 867.4 L244.7 850.4 L246.2 833 L247.7 816 L249.2 800.4 L250.7 787.2 L252.2 777.2 L253.7 771.1 L255.2 769.5 L256.7 772.3 L258.2 779.5 L259.7 790.4 L261.2 804.4 L262.7 820.4 L264.2 837.6 L265.7 855 L267.2 871.7 L268.7 887.2 L270.2 900.9 L271.7 912.7 L273.2 922.5 L274.7 930.4 L276.2 936.5 L277.7 941.1 L279.2 944.5 L280.7 946.9 L282.2 948.6 L283.7 949.7 L285.2 950.4 L286.7 950.9 L288.2 951.2 L289.7 951.4 L291.2 951.5 L292.7 951.5 L294.2 951.6 L295.7 951.6 L307.7 951.6 L319.7 951.6 L331.7 951.6 L343.7 951.6 L355.7 951.6 L367.7 951.6 L379.7 951.6 L391.7 951.6 L403.7 951.6 L415.7 951.6" fill="none" stroke="#7272b6" stroke-width="2" stroke-dasharray="5.5 5.5"/>
<rect x="81.2" y="732.1" width="345.6" height="219.5" fill="none" stroke="#262626" stroke-width="1.5"/>
<path d="M81.2 732.1h5M81.2 841.9h5M81.2 951.6h5" fill="none" stroke="#262626" stroke-width="1.3"/>
<path d="M81.2 787.2h3.5M81.2 896.9h3.5" fill="none" stroke="#262626" stroke-width="1.3"/>
<path d="M110.8 951.6v-5M202.1 951.6v-5M294.4 951.6v-5M386.1 951.6v-5" fill="none" stroke="#262626" stroke-width="1.3"/>
<path d="M123.7 732.1v4M165.5 732.1v4M207.3 732.1v4M248.4 732.1v4M292.7 732.1v4M337.3 732.1v4M382.2 732.1v4" fill="none" stroke="#262626" stroke-width="1.3"/>
<text x="70" y="742.1" text-anchor="end" fill="#262626" font-size="24">20</text>
<text x="70" y="851.5" text-anchor="end" fill="#262626" font-size="24">10</text>
<text x="70" y="961.6" text-anchor="end" fill="#262626" font-size="24">0</text>
<text x="110.8" y="978.8" text-anchor="middle" fill="#262626" font-size="24">1.44</text>
<text x="202.1" y="978.8" text-anchor="middle" fill="#262626" font-size="24">1.48</text>
<text x="294.4" y="978.8" text-anchor="middle" fill="#262626" font-size="24">1.52</text>
<text x="386.1" y="978.8" text-anchor="middle" fill="#262626" font-size="24">1.56</text>
<text x="79.4" y="721" text-anchor="middle" fill="#262626" font-size="24">-5</text>
<text x="162.9" y="721" text-anchor="middle" fill="#262626" font-size="24">-2.5</text>
<text x="248.4" y="721" text-anchor="middle" fill="#262626" font-size="24">0</text>
<text x="337.4" y="721" text-anchor="middle" fill="#262626" font-size="24">2.5</text>
<text x="426.8" y="721" text-anchor="middle" fill="#262626" font-size="24">5</text>
<text x="254" y="693.8" text-anchor="middle" fill="#262626" font-size="24.1">Deviation (%)</text>
<text x="258.4" y="1007.2" text-anchor="middle" fill="#262626" font-size="24.1">Dark current (nA)</text>
<text text-anchor="middle" fill="#262626" transform="translate(30.8,848) rotate(-90)" font-size="24">Count</text>
</g>
<g id="pe">
<text x="501.5" y="516" font-weight="bold" font-size="30">e</text>
<g shape-rendering="crispEdges">
<rect x="546" y="534.6" width="374.4" height="183.4" fill="#080304"/>
<rect x="577.2" y="534.6" width="38.3" height="36.8" fill="#808080"/>
<rect x="615.3" y="534.6" width="38.8" height="36.8" fill="#8a8a8a"/>
<rect x="653.9" y="534.6" width="38.9" height="36.8" fill="#ffffff"/>
<rect x="692.6" y="534.6" width="38.8" height="36.8" fill="#818181"/>
<rect x="769.3" y="534.6" width="38.1" height="36.8" fill="#0a0a07"/>
<rect x="807.2" y="534.6" width="38.8" height="36.8" fill="#0c0c09"/>
<rect x="845.8" y="534.6" width="38.9" height="36.8" fill="#0a0a07"/>
<rect x="884.5" y="534.6" width="36.1" height="36.8" fill="#080805"/>
<rect x="577.2" y="571.2" width="38.3" height="37.5" fill="#808080"/>
<rect x="769.3" y="571.2" width="38.1" height="37.5" fill="#0e0e0b"/>
<rect x="807.2" y="571.2" width="38.8" height="37.5" fill="#080805"/>
<rect x="845.8" y="571.2" width="38.9" height="37.5" fill="#080805"/>
<rect x="884.5" y="571.2" width="36.1" height="37.5" fill="#0e0e0b"/>
<rect x="577.2" y="608.5" width="38.3" height="37.7" fill="#848484"/>
<rect x="615.3" y="608.5" width="38.8" height="37.7" fill="#848484"/>
<rect x="653.9" y="608.5" width="38.9" height="37.7" fill="#888888"/>
<rect x="692.6" y="608.5" width="38.8" height="37.7" fill="#868686"/>
<rect x="769.3" y="608.5" width="38.1" height="37.7" fill="#0a0a07"/>
<rect x="807.2" y="608.5" width="38.8" height="37.7" fill="#080805"/>
<rect x="845.8" y="608.5" width="38.9" height="37.7" fill="#080805"/>
<rect x="884.5" y="608.5" width="36.1" height="37.7" fill="#0a0a07"/>
<rect x="577.2" y="646" width="38.3" height="38.1" fill="#828282"/>
<rect x="769.3" y="646" width="38.1" height="38.1" fill="#090906"/>
<rect x="807.2" y="646" width="38.8" height="38.1" fill="#080805"/>
<rect x="845.8" y="646" width="38.9" height="38.1" fill="#080805"/>
<rect x="884.5" y="646" width="36.1" height="38.1" fill="#0b0b08"/>
<rect x="577.2" y="683.9" width="38.3" height="34.3" fill="#c8c8c8"/>
<rect x="769.3" y="683.9" width="38.1" height="34.3" fill="#080805"/>
<rect x="807.2" y="683.9" width="38.8" height="34.3" fill="#0c0c09"/>
<rect x="845.8" y="683.9" width="38.9" height="34.3" fill="#0e0e0b"/>
<rect x="884.5" y="683.9" width="36.1" height="34.3" fill="#080805"/>
<rect x="544.3" y="533.3" width="378" height="186.6" fill="none" stroke="#aa8058" stroke-width="2.6"/>
<rect x="546" y="785.3" width="36.2" height="34.9" fill="#e4e4e4"/>
<rect x="582" y="785.3" width="38" height="34.9" fill="#464646"/>
<rect x="619.8" y="785.3" width="37.8" height="34.9" fill="#404040"/>
<rect x="657.4" y="785.3" width="38" height="34.9" fill="#242424"/>
<rect x="695.2" y="785.3" width="37.5" height="34.9" fill="#242424"/>
<rect x="732.5" y="785.3" width="37.5" height="34.9" fill="#ececec"/>
<rect x="769.8" y="785.3" width="38.1" height="34.9" fill="#888888"/>
<rect x="807.7" y="785.3" width="37.8" height="34.9" fill="#767676"/>
<rect x="845.3" y="785.3" width="38" height="34.9" fill="#8c8c8c"/>
<rect x="883.1" y="785.3" width="37.5" height="34.9" fill="#ececec"/>
<rect x="546" y="820" width="36.2" height="37.5" fill="#f2f2f2"/>
<rect x="582" y="820" width="38" height="37.5" fill="#242424"/>
<rect x="619.8" y="820" width="37.8" height="37.5" fill="#f0f0f0"/>
<rect x="657.4" y="820" width="38" height="37.5" fill="#ececec"/>
<rect x="695.2" y="820" width="37.5" height="37.5" fill="#ececec"/>
<rect x="732.5" y="820" width="37.5" height="37.5" fill="#ebebeb"/>
<rect x="769.8" y="820" width="38.1" height="37.5" fill="#7c7c7c"/>
<rect x="807.7" y="820" width="37.8" height="37.5" fill="#e2e2e2"/>
<rect x="845.3" y="820" width="38" height="37.5" fill="#e2e2e2"/>
<rect x="883.1" y="820" width="37.5" height="37.5" fill="#8c8c8c"/>
<rect x="546" y="857.3" width="36.2" height="37.5" fill="#dcdcdc"/>
<rect x="582" y="857.3" width="38" height="37.5" fill="#262626"/>
<rect x="619.8" y="857.3" width="37.8" height="37.5" fill="#262626"/>
<rect x="657.4" y="857.3" width="38" height="37.5" fill="#242424"/>
<rect x="695.2" y="857.3" width="37.5" height="37.5" fill="#262626"/>
<rect x="732.5" y="857.3" width="37.5" height="37.5" fill="#d8d8d8"/>
<rect x="769.8" y="857.3" width="38.1" height="37.5" fill="#7c7c7c"/>
<rect x="807.7" y="857.3" width="37.8" height="37.5" fill="#f2f2f2"/>
<rect x="845.3" y="857.3" width="38" height="37.5" fill="#e2e2e2"/>
<rect x="883.1" y="857.3" width="37.5" height="37.5" fill="#767676"/>
<rect x="546" y="894.6" width="36.2" height="38" fill="#ffffff"/>
<rect x="582" y="894.6" width="38" height="38" fill="#2e2e2e"/>
<rect x="619.8" y="894.6" width="37.8" height="38" fill="#dadada"/>
<rect x="657.4" y="894.6" width="38" height="38" fill="#fcfcfc"/>
<rect x="695.2" y="894.6" width="37.5" height="38" fill="#e8e8e8"/>
<rect x="732.5" y="894.6" width="37.5" height="38" fill="#e4e4e4"/>
<rect x="769.8" y="894.6" width="38.1" height="38" fill="#868686"/>
<rect x="807.7" y="894.6" width="37.8" height="38" fill="#dedede"/>
<rect x="845.3" y="894.6" width="38" height="38" fill="#d8d8d8"/>
<rect x="883.1" y="894.6" width="37.5" height="38" fill="#868686"/>
<rect x="546" y="932.4" width="36.2" height="36.5" fill="#e4e4e4"/>
<rect x="582" y="932.4" width="38" height="36.5" fill="#3a3a3a"/>
<rect x="619.8" y="932.4" width="37.8" height="36.5" fill="#f0f0f0"/>
<rect x="657.4" y="932.4" width="38" height="36.5" fill="#dedede"/>
<rect x="695.2" y="932.4" width="37.5" height="36.5" fill="#dedede"/>
<rect x="732.5" y="932.4" width="37.5" height="36.5" fill="#dadada"/>
<rect x="769.8" y="932.4" width="38.1" height="36.5" fill="#929292"/>
<rect x="807.7" y="932.4" width="37.8" height="36.5" fill="#7c7c7c"/>
<rect x="845.3" y="932.4" width="38" height="36.5" fill="#808080"/>
<rect x="883.1" y="932.4" width="37.5" height="36.5" fill="#dcdcdc"/>
<rect x="544.3" y="783.6" width="378" height="186.8" fill="none" stroke="#aa8058" stroke-width="2.6"/>
</g>
<path d="M719.7 723.3H748.5V757.2H763.2L734.3 781L705.4 757.2H719.7Z" fill="url(#arw)"/>
<text x="752.3" y="753.2" text-anchor="middle" fill="#2a1f1c" font-size="27.7">CIPS detector array</text>
<text text-anchor="middle" fill="#1a1a1a" transform="translate(520.8,623.7) rotate(-90)" font-size="27.9">Raw image</text>
<text text-anchor="middle" fill="#1a1a1a" transform="translate(522.3,872) rotate(-90)" font-size="27.9">Detector image</text>
<rect x="940.4" y="620.5" width="20" height="74.9" fill="url(#gwb)"/>
<text x="952.4" y="603.4" text-anchor="middle" fill="#222" font-size="23.2">6.37</text>
<text x="952.4" y="719.9" text-anchor="middle" fill="#222" font-size="23.2">0.05</text>
<text text-anchor="middle" fill="#222" transform="translate(984,668) rotate(90)" font-size="26.4">mW·cm<tspan baseline-shift="8.7" font-size="16.4">-2</tspan></text>
<rect x="944.4" y="863.9" width="20" height="74.7" fill="url(#gwb)"/>
<text x="954.8" y="848" text-anchor="middle" fill="#222" font-size="24">0.44</text>
<text x="954.2" y="967.1" text-anchor="middle" fill="#222" font-size="24">-1.29</text>
<text text-anchor="middle" fill="#222" transform="translate(988.5,902.6) rotate(90)" font-size="23"><tspan font-style="italic">I</tspan><tspan baseline-shift="-4.1" font-size="14.3">ph</tspan> (nA)</text>
</g>
<g id="pf">
<text x="1029" y="516.1" font-weight="bold" font-size="30">f</text>
<line x1="1277.5" y1="531.5" x2="1277.5" y2="929.6" stroke="#a0a0a0" stroke-width="2.6" stroke-dasharray="11 6.6"/>
<path d="M1128.2 887.8C1129.1 886.8 1131.5 884 1133.5 881.5C1135.5 879 1138 876 1140.2 872.5C1142.4 869 1144.3 865 1146.5 860.5C1148.7 856 1151.1 851 1153.6 845.6C1156.1 840.2 1158.7 834.1 1161.5 828C1164.3 821.9 1166.1 818.7 1170.4 808.7C1174.7 798.8 1181.6 781.8 1187.2 768.3C1192.8 754.8 1198.4 741.1 1204 728C1209.6 714.9 1215.2 702.3 1220.8 689.4C1226.4 676.5 1232 663.1 1237.6 650.7C1243.2 638.3 1249.4 625.5 1254.4 615C1259.4 604.5 1264.1 594.9 1267.8 587.6C1271.5 580.4 1275.3 574.2 1276.8 571.5" fill="none" stroke="#4e69a2" stroke-width="9.2" stroke-linecap="round"/>
<path d="M1128.2 887.8C1129.1 886.8 1131.5 884 1133.5 881.5C1135.5 879 1138 876 1140.2 872.5C1142.4 869 1144.3 865 1146.5 860.5C1148.7 856 1151.1 851 1153.6 845.6C1156.1 840.2 1158.7 834.1 1161.5 828C1164.3 821.9 1166.1 818.7 1170.4 808.7C1174.7 798.8 1181.6 781.8 1187.2 768.3C1192.8 754.8 1198.4 741.1 1204 728C1209.6 714.9 1215.2 702.3 1220.8 689.4C1226.4 676.5 1232 663.1 1237.6 650.7C1243.2 638.3 1249.4 625.5 1254.4 615C1259.4 604.5 1264.1 594.9 1267.8 587.6C1271.5 580.4 1275.3 574.2 1276.8 571.5" fill="none" stroke="#8fa3cb" stroke-width="4" stroke-linecap="round" stroke-dasharray="1.2 1.6" opacity="0.55"/>
<path d="M1278.6 567.5C1279 567.8 1280.3 568.1 1281.2 569.3C1282.1 570.5 1282.5 570.7 1284 574.5C1285.5 578.3 1287.8 584 1290.2 592C1292.6 600 1295.5 611 1298.6 622.2C1301.7 633.4 1305.3 647.2 1308.7 659.2C1312.1 671.2 1315.5 683.3 1318.8 694.5C1322.1 705.7 1325.4 716 1328.8 726.4C1332.2 736.8 1335.5 747.4 1338.9 756.6C1342.3 765.8 1345.1 772.5 1349 781.8C1352.9 791 1357.9 802.9 1362.4 812.1C1366.9 821.4 1370.9 829.2 1375.9 837.3C1381 845.4 1387.1 854.1 1392.7 860.8C1398.3 867.5 1403.8 873.3 1409.5 877.6C1415.2 881.9 1424.1 885.2 1427 886.7" fill="none" stroke="#6c7773" stroke-width="10" stroke-linecap="round"/>
<path d="M1278.6 567.5C1279 567.8 1280.3 568.1 1281.2 569.3C1282.1 570.5 1282.5 570.7 1284 574.5C1285.5 578.3 1287.8 584 1290.2 592C1292.6 600 1295.5 611 1298.6 622.2C1301.7 633.4 1305.3 647.2 1308.7 659.2C1312.1 671.2 1315.5 683.3 1318.8 694.5C1322.1 705.7 1325.4 716 1328.8 726.4C1332.2 736.8 1335.5 747.4 1338.9 756.6C1342.3 765.8 1345.1 772.5 1349 781.8C1352.9 791 1357.9 802.9 1362.4 812.1C1366.9 821.4 1370.9 829.2 1375.9 837.3C1381 845.4 1387.1 854.1 1392.7 860.8C1398.3 867.5 1403.8 873.3 1409.5 877.6C1415.2 881.9 1424.1 885.2 1427 886.7" fill="none" stroke="#a9b1ad" stroke-width="4.4" stroke-linecap="round" stroke-dasharray="1.2 1.6" opacity="0.6"/>
<circle cx="1427" cy="886.4" r="2.6" fill="#eef0ee" stroke="#6c7773" stroke-width="0.8"/>
<rect x="1112.7" y="530.5" width="330.5" height="399.1" fill="none" stroke="#000" stroke-width="2.2"/>
<path d="M1112.7 583.8h8M1112.7 690.4h8M1112.7 796.8h8M1112.7 903.4h8" fill="none" stroke="#000" stroke-width="2"/>
<path d="M1112.7 637.1h4.5M1112.7 743.2h4.5M1112.7 850.1h4.5" fill="none" stroke="#000" stroke-width="2"/>
<path d="M1127.9 929.6v-8M1202.6 929.6v-8M1277.5 929.6v-8M1352.4 929.6v-8M1427 929.6v-8" fill="none" stroke="#000" stroke-width="2"/>
<path d="M1165.3 929.6v-4.5M1239.9 929.6v-4.5M1314.5 929.6v-4.5M1389.7 929.6v-4.5" fill="none" stroke="#000" stroke-width="2"/>
<text x="1105.5" y="593.6" text-anchor="end" font-size="27">2.4</text>
<text x="1105.5" y="700.2" text-anchor="end" font-size="27">2.0</text>
<text x="1105.5" y="806.6" text-anchor="end" font-size="27">1.6</text>
<text x="1105.5" y="913.2" text-anchor="end" font-size="27">1.2</text>
<text x="1127.9" y="960.2" text-anchor="middle" font-size="27">0</text>
<text x="1277.5" y="960.2" text-anchor="middle" font-size="27">200</text>
<text x="1427" y="960.2" text-anchor="middle" font-size="27">400</text>
<text x="1287" y="991.4" text-anchor="middle" font-size="27.7">Pulse Number</text>
<text text-anchor="middle" transform="translate(1052.3,728.5) rotate(-90)" font-size="24">Current (nA)</text>
<text x="1125.5" y="562.5" fill="#4e69a2" font-size="25.8">1 mW·cm<tspan baseline-shift="8.5" font-size="16">-2</tspan></text>
<text x="1441.5" y="562.5" text-anchor="end" fill="#6c7773" font-size="25.8">10 mW·cm<tspan baseline-shift="8.5" font-size="16">-2</tspan></text>
<text x="1126.8" y="599.8" fill="#4e69a2" font-size="20.5">50 ms</text>
<text x="1148.2" y="657.9" fill="#4e69a2" font-size="20.5">50 ms</text>
<text x="1337.5" y="585.4" fill="#6c7773" font-size="20.5">50 ms</text>
<text x="1360.2" y="679.8" fill="#6c7773" font-size="20.5">50 ms</text>
<path d="M1131.9 637.1H1149.3V605.9H1165.3V637.1H1181.2V605.9H1197.2V637.1H1214" fill="none" stroke="#4e69a2" stroke-width="1.7"/>
<path d="M1339.8 657.4H1358.5V591.8H1376.6V657.4H1395.3V591.8H1413.9V657.4H1432.6" fill="none" stroke="#6c7773" stroke-width="1.7"/>
<text x="1202.3" y="896.3" text-anchor="middle" fill="#4e69a2" font-size="27">LTP</text>
<text x="1352.2" y="898.4" text-anchor="middle" fill="#6c7773" font-size="27.3">LTD</text>
</g>
<g id="pg">
<text x="1467.5" y="516" font-weight="bold" font-size="30">g</text>
<g transform="translate(1546.1,567.5) matrix(1 0 -0.4 1 0 0)" shape-rendering="crispEdges"><rect x="0" y="-33.6" width="69.9" height="33.6" fill="#060606"/><rect x="7" y="-33.6" width="7.3" height="7" fill="#808080"/><rect x="14" y="-33.6" width="7.3" height="7" fill="#8a8a8a"/><rect x="21" y="-33.6" width="7.3" height="7" fill="#ffffff"/><rect x="28" y="-33.6" width="7.3" height="7" fill="#818181"/><rect x="41.9" y="-33.6" width="7.3" height="7" fill="#0a0a0a"/><rect x="48.9" y="-33.6" width="7.3" height="7" fill="#0c0c0c"/><rect x="55.9" y="-33.6" width="7.3" height="7" fill="#0a0a0a"/><rect x="62.9" y="-33.6" width="7.3" height="7" fill="#080808"/><rect x="7" y="-26.9" width="7.3" height="7" fill="#808080"/><rect x="41.9" y="-26.9" width="7.3" height="7" fill="#0e0e0e"/><rect x="48.9" y="-26.9" width="7.3" height="7" fill="#080808"/><rect x="55.9" y="-26.9" width="7.3" height="7" fill="#080808"/><rect x="62.9" y="-26.9" width="7.3" height="7" fill="#0e0e0e"/><rect x="7" y="-20.2" width="7.3" height="7" fill="#848484"/><rect x="14" y="-20.2" width="7.3" height="7" fill="#848484"/><rect x="21" y="-20.2" width="7.3" height="7" fill="#888888"/><rect x="28" y="-20.2" width="7.3" height="7" fill="#868686"/><rect x="41.9" y="-20.2" width="7.3" height="7" fill="#0a0a0a"/><rect x="48.9" y="-20.2" width="7.3" height="7" fill="#080808"/><rect x="55.9" y="-20.2" width="7.3" height="7" fill="#080808"/><rect x="62.9" y="-20.2" width="7.3" height="7" fill="#0a0a0a"/><rect x="7" y="-13.4" width="7.3" height="7" fill="#828282"/><rect x="41.9" y="-13.4" width="7.3" height="7" fill="#090909"/><rect x="48.9" y="-13.4" width="7.3" height="7" fill="#080808"/><rect x="55.9" y="-13.4" width="7.3" height="7" fill="#080808"/><rect x="62.9" y="-13.4" width="7.3" height="7" fill="#0b0b0b"/><rect x="7" y="-6.7" width="7.3" height="7" fill="#c8c8c8"/><rect x="41.9" y="-6.7" width="7.3" height="7" fill="#080808"/><rect x="48.9" y="-6.7" width="7.3" height="7" fill="#0c0c0c"/><rect x="55.9" y="-6.7" width="7.3" height="7" fill="#0e0e0e"/><rect x="62.9" y="-6.7" width="7.3" height="7" fill="#080808"/></g>
<g transform="translate(1546.1,611.4) matrix(1 0 -0.4 1 0 0)" shape-rendering="crispEdges"><rect x="0" y="-32" width="69.9" height="32" fill="#ececec"/><rect x="0" y="-32" width="7.3" height="6.7" fill="#e4e4e4"/><rect x="7" y="-32" width="7.3" height="6.7" fill="#464646"/><rect x="14" y="-32" width="7.3" height="6.7" fill="#404040"/><rect x="21" y="-32" width="7.3" height="6.7" fill="#242424"/><rect x="28" y="-32" width="7.3" height="6.7" fill="#242424"/><rect x="41.9" y="-32" width="7.3" height="6.7" fill="#888888"/><rect x="48.9" y="-32" width="7.3" height="6.7" fill="#767676"/><rect x="55.9" y="-32" width="7.3" height="6.7" fill="#8c8c8c"/><rect x="0" y="-25.6" width="7.3" height="6.7" fill="#f2f2f2"/><rect x="7" y="-25.6" width="7.3" height="6.7" fill="#242424"/><rect x="14" y="-25.6" width="7.3" height="6.7" fill="#f0f0f0"/><rect x="35" y="-25.6" width="7.3" height="6.7" fill="#ebebeb"/><rect x="41.9" y="-25.6" width="7.3" height="6.7" fill="#7c7c7c"/><rect x="48.9" y="-25.6" width="7.3" height="6.7" fill="#e2e2e2"/><rect x="55.9" y="-25.6" width="7.3" height="6.7" fill="#e2e2e2"/><rect x="62.9" y="-25.6" width="7.3" height="6.7" fill="#8c8c8c"/><rect x="0" y="-19.2" width="7.3" height="6.7" fill="#dcdcdc"/><rect x="7" y="-19.2" width="7.3" height="6.7" fill="#262626"/><rect x="14" y="-19.2" width="7.3" height="6.7" fill="#262626"/><rect x="21" y="-19.2" width="7.3" height="6.7" fill="#242424"/><rect x="28" y="-19.2" width="7.3" height="6.7" fill="#262626"/><rect x="35" y="-19.2" width="7.3" height="6.7" fill="#d8d8d8"/><rect x="41.9" y="-19.2" width="7.3" height="6.7" fill="#7c7c7c"/><rect x="48.9" y="-19.2" width="7.3" height="6.7" fill="#f2f2f2"/><rect x="55.9" y="-19.2" width="7.3" height="6.7" fill="#e2e2e2"/><rect x="62.9" y="-19.2" width="7.3" height="6.7" fill="#767676"/><rect x="0" y="-12.8" width="7.3" height="6.7" fill="#ffffff"/><rect x="7" y="-12.8" width="7.3" height="6.7" fill="#2e2e2e"/><rect x="14" y="-12.8" width="7.3" height="6.7" fill="#dadada"/><rect x="21" y="-12.8" width="7.3" height="6.7" fill="#fcfcfc"/><rect x="28" y="-12.8" width="7.3" height="6.7" fill="#e8e8e8"/><rect x="35" y="-12.8" width="7.3" height="6.7" fill="#e4e4e4"/><rect x="41.9" y="-12.8" width="7.3" height="6.7" fill="#868686"/><rect x="48.9" y="-12.8" width="7.3" height="6.7" fill="#dedede"/><rect x="55.9" y="-12.8" width="7.3" height="6.7" fill="#d8d8d8"/><rect x="62.9" y="-12.8" width="7.3" height="6.7" fill="#868686"/><rect x="0" y="-6.4" width="7.3" height="6.7" fill="#e4e4e4"/><rect x="7" y="-6.4" width="7.3" height="6.7" fill="#3a3a3a"/><rect x="14" y="-6.4" width="7.3" height="6.7" fill="#f0f0f0"/><rect x="21" y="-6.4" width="7.3" height="6.7" fill="#dedede"/><rect x="28" y="-6.4" width="7.3" height="6.7" fill="#dedede"/><rect x="35" y="-6.4" width="7.3" height="6.7" fill="#dadada"/><rect x="41.9" y="-6.4" width="7.3" height="6.7" fill="#929292"/><rect x="48.9" y="-6.4" width="7.3" height="6.7" fill="#7c7c7c"/><rect x="55.9" y="-6.4" width="7.3" height="6.7" fill="#808080"/><rect x="62.9" y="-6.4" width="7.3" height="6.7" fill="#dcdcdc"/></g>
<path d="M1638.5 562.8h24.9v-5.9l13.5 12.3-13.5 12.1v-5.9h-24.9Z" fill="url(#ga)"/>
<path d="M1829.2 562.8h24.9v-5.9l13.5 12.3-13.5 12.1v-5.9h-24.9Z" fill="url(#ga)"/>
<rect x="1697.5" y="533.4" width="38.9" height="39.1" fill="#b3cce9" fill-opacity="0.78" stroke="#6a5e5b" stroke-opacity="0.88" stroke-width="4.2"/>
<rect x="1709.3" y="553.5" width="38" height="38" fill="#9cc0e4" fill-opacity="0.78" stroke="#6a5e5b" stroke-opacity="0.88" stroke-width="4.2"/>
<rect x="1714.5" y="561.3" width="39.2" height="39" fill="#8cb8e0" fill-opacity="0.78" stroke="#6a5e5b" stroke-opacity="0.88" stroke-width="4.2"/>
<rect x="1720" y="570.3" width="39.6" height="38.3" fill="#7fb0dc" fill-opacity="0.78" stroke="#6a5e5b" stroke-opacity="0.88" stroke-width="4.2"/>
<rect x="1770.2" y="540.5" width="29.2" height="26.1" fill="#b3cce9" fill-opacity="0.78" stroke="#6a5e5b" stroke-opacity="0.88" stroke-width="4.2"/>
<rect x="1778.5" y="558.5" width="30.2" height="24.7" fill="#9cc0e4" fill-opacity="0.78" stroke="#6a5e5b" stroke-opacity="0.88" stroke-width="4.2"/>
<rect x="1782.1" y="565.6" width="29.6" height="25.9" fill="#8cb8e0" fill-opacity="0.78" stroke="#6a5e5b" stroke-opacity="0.88" stroke-width="4.2"/>
<rect x="1785.1" y="574.4" width="30.7" height="25.4" fill="#8fbbe2" fill-opacity="0.78" stroke="#6a5e5b" stroke-opacity="0.88" stroke-width="4.2"/>
<path d="M1886.8 512.6L1944.2 536.7M1886.8 512.6L1944.2 556.2M1886.8 512.6L1944.2 598.3M1886.8 532L1944.2 536.7M1886.8 532L1944.2 556.2M1886.8 532L1944.2 598.3M1886.8 551.4L1944.2 536.7M1886.8 551.4L1944.2 556.2M1886.8 551.4L1944.2 598.3M1886.8 605.9L1944.2 536.7M1886.8 605.9L1944.2 556.2M1886.8 605.9L1944.2 598.3M1886.8 624.9L1944.2 536.7M1886.8 624.9L1944.2 556.2M1886.8 624.9L1944.2 598.3" fill="none" stroke="#7d3f98" stroke-width="1.1"/>
<path d="M1886.8 568.7V587M1944.2 568.7V587" fill="none" stroke="#7d3f98" stroke-width="1.8" stroke-dasharray="3.2 3.2"/>
<g fill="url(#nd)"><circle cx="1886.8" cy="512.6" r="6.6"/><circle cx="1886.8" cy="532" r="6.6"/><circle cx="1886.8" cy="551.4" r="6.6"/><circle cx="1886.8" cy="605.9" r="6.6"/><circle cx="1886.8" cy="624.9" r="6.6"/><circle cx="1944.2" cy="536.7" r="6.6"/><circle cx="1944.2" cy="556.2" r="6.6"/><circle cx="1944.2" cy="598.3" r="6.6"/></g>
<text x="1545" y="650.5" font-size="24">Dataset</text>
<text x="1659.5" y="650.5" font-size="24">Feature learning</text>
<text x="1848.5" y="651.7" font-size="24">Classification</text>
<path d="M1590.4 902.5C1590.7 897.7 1591.6 882.1 1592.2 873.9C1592.9 865.8 1593.5 859.9 1594.1 853.6C1594.7 847.3 1595.3 841.5 1595.9 836.1C1596.6 830.7 1596.9 827.6 1597.8 821C1598.7 814.4 1600.2 803.8 1601.5 796.7C1602.7 789.5 1603.9 783.7 1605.2 778.3C1606.4 772.9 1607.6 768.5 1608.9 764.4C1610.1 760.3 1610.7 758 1612.6 753.7C1614.4 749.4 1617.5 742.9 1619.9 738.8C1622.4 734.8 1624.9 732 1627.3 729.4C1629.8 726.7 1631.6 725.1 1634.7 723C1637.8 720.8 1641.5 718.5 1645.8 716.5C1650.1 714.5 1655 712.5 1660.6 710.8C1666.1 709.1 1672.9 707.5 1679 706.2C1685.2 704.9 1688.3 704.2 1697.5 703.1C1706.8 702 1722.1 700.4 1734.5 699.5C1746.8 698.6 1759.1 698.1 1771.4 697.7C1783.7 697.3 1789.9 697.1 1808.3 696.8C1826.8 696.6 1856.7 696.3 1882.2 696.2C1907.8 696.1 1948.4 696.1 1961.6 696" fill="none" stroke="#aeb2d6" stroke-width="4.6"/>
<path d="M1590.4 917.5C1594.7 914.2 1608.2 903.8 1616.3 897.5C1624.3 891.2 1631 885.8 1638.4 880C1645.8 874.2 1653.2 867.3 1660.6 862.5C1668 857.7 1675.4 854.2 1682.7 851C1690.1 847.8 1696.3 845.7 1704.9 843.5C1713.5 841.3 1723.4 839.5 1734.5 838C1745.5 836.5 1759.1 835.4 1771.4 834.5C1783.7 833.6 1794.8 833 1808.3 832.5C1821.9 832 1837.9 831.4 1852.7 831.5C1867.4 831.6 1883.5 832.4 1897 833C1910.5 833.6 1923.2 834.5 1933.9 835C1944.7 835.5 1957 836 1961.6 836.2" fill="none" stroke="#cfcfcf" stroke-width="4.6"/>
<g fill="#f2f2f2" fill-opacity="0.55" stroke="#a9a9a9" stroke-width="1.7"><circle cx="1590.4" cy="911.5" r="4.5"/><circle cx="1597.8" cy="899.8" r="4.5"/><circle cx="1605.2" cy="898" r="4.5"/><circle cx="1612.6" cy="897.5" r="4.5"/><circle cx="1619.9" cy="901" r="4.5"/><circle cx="1627.3" cy="892.5" r="4.5"/><circle cx="1634.7" cy="888" r="4.5"/><circle cx="1642.1" cy="882.8" r="4.5"/><circle cx="1649.5" cy="874.8" r="4.5"/><circle cx="1656.9" cy="862" r="4.5"/><circle cx="1664.3" cy="857.8" r="4.5"/><circle cx="1671.7" cy="851.5" r="4.5"/><circle cx="1679" cy="855" r="4.5"/><circle cx="1686.4" cy="850" r="4.5"/><circle cx="1693.8" cy="845.8" r="4.5"/><circle cx="1701.2" cy="848.2" r="4.5"/><circle cx="1708.6" cy="841.2" r="4.5"/><circle cx="1716" cy="842.2" r="4.5"/><circle cx="1723.4" cy="836" r="4.5"/><circle cx="1730.8" cy="839.5" r="4.5"/><circle cx="1738.2" cy="841.2" r="4.5"/><circle cx="1745.5" cy="840" r="4.5"/><circle cx="1752.9" cy="837" r="4.5"/><circle cx="1760.3" cy="836.8" r="4.5"/><circle cx="1767.7" cy="836.8" r="4.5"/><circle cx="1775.1" cy="836.5" r="4.5"/><circle cx="1782.5" cy="834.2" r="4.5"/><circle cx="1789.9" cy="834.5" r="4.5"/><circle cx="1797.3" cy="832.5" r="4.5"/><circle cx="1804.6" cy="833" r="4.5"/><circle cx="1812" cy="833.5" r="4.5"/><circle cx="1819.4" cy="832.5" r="4.5"/><circle cx="1826.8" cy="832.8" r="4.5"/><circle cx="1834.2" cy="831.8" r="4.5"/><circle cx="1841.6" cy="832" r="4.5"/><circle cx="1849" cy="830.5" r="4.5"/><circle cx="1856.4" cy="831" r="4.5"/><circle cx="1863.8" cy="831.8" r="4.5"/><circle cx="1871.1" cy="832" r="4.5"/><circle cx="1878.5" cy="831.5" r="4.5"/><circle cx="1885.9" cy="834.5" r="4.5"/><circle cx="1893.3" cy="831.8" r="4.5"/><circle cx="1900.7" cy="834.2" r="4.5"/><circle cx="1908.1" cy="832" r="4.5"/><circle cx="1915.5" cy="832.8" r="4.5"/><circle cx="1922.9" cy="836.2" r="4.5"/><circle cx="1930.2" cy="834.2" r="4.5"/><circle cx="1937.6" cy="833.8" r="4.5"/><circle cx="1945" cy="835" r="4.5"/><circle cx="1952.4" cy="836.8" r="4.5"/></g>
<g fill="#e4e6f4" fill-opacity="0.55" stroke="#6f79b4" stroke-width="1.7"><circle cx="1590.4" cy="897" r="4.5"/><circle cx="1597.8" cy="798.2" r="4.5"/><circle cx="1605.2" cy="758.2" r="4.5"/><circle cx="1612.6" cy="735.5" r="4.5"/><circle cx="1619.9" cy="733.2" r="4.5"/><circle cx="1627.3" cy="724.5" r="4.5"/><circle cx="1634.7" cy="723.5" r="4.5"/><circle cx="1642.1" cy="719.2" r="4.5"/><circle cx="1649.5" cy="716.8" r="4.5"/><circle cx="1656.9" cy="714" r="4.5"/><circle cx="1664.3" cy="710.5" r="4.5"/><circle cx="1671.7" cy="708.8" r="4.5"/><circle cx="1679" cy="708.8" r="4.5"/><circle cx="1686.4" cy="704.5" r="4.5"/><circle cx="1693.8" cy="703.5" r="4.5"/><circle cx="1701.2" cy="702.8" r="4.5"/><circle cx="1708.6" cy="701.8" r="4.5"/><circle cx="1716" cy="701.2" r="4.5"/><circle cx="1723.4" cy="700.5" r="4.5"/><circle cx="1730.8" cy="700" r="4.5"/><circle cx="1738.2" cy="699.8" r="4.5"/><circle cx="1745.5" cy="699.2" r="4.5"/><circle cx="1752.9" cy="699" r="4.5"/><circle cx="1760.3" cy="698.8" r="4.5"/><circle cx="1767.7" cy="698.2" r="4.5"/><circle cx="1775.1" cy="698.2" r="4.5"/><circle cx="1782.5" cy="698" r="4.5"/><circle cx="1789.9" cy="697.8" r="4.5"/><circle cx="1797.3" cy="698.2" r="4.5"/><circle cx="1804.6" cy="697" r="4.5"/><circle cx="1812" cy="697" r="4.5"/><circle cx="1819.4" cy="696.8" r="4.5"/><circle cx="1826.8" cy="696.8" r="4.5"/><circle cx="1834.2" cy="696.8" r="4.5"/><circle cx="1841.6" cy="696.5" r="4.5"/><circle cx="1849" cy="696.5" r="4.5"/><circle cx="1856.4" cy="696.2" r="4.5"/><circle cx="1863.8" cy="696.2" r="4.5"/><circle cx="1871.1" cy="695.8" r="4.5"/><circle cx="1878.5" cy="696.5" r="4.5"/><circle cx="1885.9" cy="696.2" r="4.5"/><circle cx="1893.3" cy="696.2" r="4.5"/><circle cx="1900.7" cy="696" r="4.5"/><circle cx="1908.1" cy="696.2" r="4.5"/><circle cx="1915.5" cy="696" r="4.5"/><circle cx="1922.9" cy="696" r="4.5"/><circle cx="1930.2" cy="696" r="4.5"/><circle cx="1937.6" cy="696" r="4.5"/><circle cx="1945" cy="695.8" r="4.5"/><circle cx="1952.4" cy="696" r="4.5"/></g>
<rect x="1568.3" y="669.7" width="406.9" height="275.3" fill="none" stroke="#000" stroke-width="2.2"/>
<path d="M1568.3 694.9h7M1568.3 819.6h7M1568.3 945h7" fill="none" stroke="#000" stroke-width="2"/>
<path d="M1568.3 756.9h4.5M1568.3 882h4.5" fill="none" stroke="#000" stroke-width="2"/>
<path d="M1586.7 945v-7M1771.4 945v-7M1956.1 945v-7" fill="none" stroke="#000" stroke-width="2"/>
<path d="M1678.4 945v-4.5M1863.7 945v-4.5" fill="none" stroke="#000" stroke-width="2"/>
<text x="1560" y="704.6" text-anchor="end" font-size="27">100</text>
<text x="1560" y="829.3" text-anchor="end" font-size="27">50</text>
<text x="1560" y="954.7" text-anchor="end" font-size="27">0</text>
<text x="1586.7" y="975.3" text-anchor="middle" font-size="27">0</text>
<text x="1771.4" y="975.3" text-anchor="middle" font-size="27">50</text>
<text x="1955" y="975.3" text-anchor="middle" font-size="27">100</text>
<text x="1774.5" y="1005" text-anchor="middle" font-size="27.4">Epoch</text>
<text text-anchor="middle" transform="translate(1502,810) rotate(-90)" font-size="27.9">Accuracy (%)</text>
<text x="1865" y="727.9" text-anchor="middle" font-size="24">Processed image</text>
<text x="1864.6" y="866.3" text-anchor="middle" font-size="24">Raw image</text>
<g transform="translate(1818.4,779.2) matrix(1 0 -0.4 1 0 0)" shape-rendering="crispEdges"><rect x="0" y="-39.1" width="83" height="39.1" fill="#ececec"/><rect x="0" y="-39.1" width="8.6" height="8.1" fill="#e4e4e4"/><rect x="8.3" y="-39.1" width="8.6" height="8.1" fill="#464646"/><rect x="16.6" y="-39.1" width="8.6" height="8.1" fill="#404040"/><rect x="24.9" y="-39.1" width="8.6" height="8.1" fill="#242424"/><rect x="33.2" y="-39.1" width="8.6" height="8.1" fill="#242424"/><rect x="49.8" y="-39.1" width="8.6" height="8.1" fill="#888888"/><rect x="58.1" y="-39.1" width="8.6" height="8.1" fill="#767676"/><rect x="66.4" y="-39.1" width="8.6" height="8.1" fill="#8c8c8c"/><rect x="0" y="-31.3" width="8.6" height="8.1" fill="#f2f2f2"/><rect x="8.3" y="-31.3" width="8.6" height="8.1" fill="#242424"/><rect x="16.6" y="-31.3" width="8.6" height="8.1" fill="#f0f0f0"/><rect x="41.5" y="-31.3" width="8.6" height="8.1" fill="#ebebeb"/><rect x="49.8" y="-31.3" width="8.6" height="8.1" fill="#7c7c7c"/><rect x="58.1" y="-31.3" width="8.6" height="8.1" fill="#e2e2e2"/><rect x="66.4" y="-31.3" width="8.6" height="8.1" fill="#e2e2e2"/><rect x="74.7" y="-31.3" width="8.6" height="8.1" fill="#8c8c8c"/><rect x="0" y="-23.5" width="8.6" height="8.1" fill="#dcdcdc"/><rect x="8.3" y="-23.5" width="8.6" height="8.1" fill="#262626"/><rect x="16.6" y="-23.5" width="8.6" height="8.1" fill="#262626"/><rect x="24.9" y="-23.5" width="8.6" height="8.1" fill="#242424"/><rect x="33.2" y="-23.5" width="8.6" height="8.1" fill="#262626"/><rect x="41.5" y="-23.5" width="8.6" height="8.1" fill="#d8d8d8"/><rect x="49.8" y="-23.5" width="8.6" height="8.1" fill="#7c7c7c"/><rect x="58.1" y="-23.5" width="8.6" height="8.1" fill="#f2f2f2"/><rect x="66.4" y="-23.5" width="8.6" height="8.1" fill="#e2e2e2"/><rect x="74.7" y="-23.5" width="8.6" height="8.1" fill="#767676"/><rect x="0" y="-15.6" width="8.6" height="8.1" fill="#ffffff"/><rect x="8.3" y="-15.6" width="8.6" height="8.1" fill="#2e2e2e"/><rect x="16.6" y="-15.6" width="8.6" height="8.1" fill="#dadada"/><rect x="24.9" y="-15.6" width="8.6" height="8.1" fill="#fcfcfc"/><rect x="33.2" y="-15.6" width="8.6" height="8.1" fill="#e8e8e8"/><rect x="41.5" y="-15.6" width="8.6" height="8.1" fill="#e4e4e4"/><rect x="49.8" y="-15.6" width="8.6" height="8.1" fill="#868686"/><rect x="58.1" y="-15.6" width="8.6" height="8.1" fill="#dedede"/><rect x="66.4" y="-15.6" width="8.6" height="8.1" fill="#d8d8d8"/><rect x="74.7" y="-15.6" width="8.6" height="8.1" fill="#868686"/><rect x="0" y="-7.8" width="8.6" height="8.1" fill="#e4e4e4"/><rect x="8.3" y="-7.8" width="8.6" height="8.1" fill="#3a3a3a"/><rect x="16.6" y="-7.8" width="8.6" height="8.1" fill="#f0f0f0"/><rect x="24.9" y="-7.8" width="8.6" height="8.1" fill="#dedede"/><rect x="33.2" y="-7.8" width="8.6" height="8.1" fill="#dedede"/><rect x="41.5" y="-7.8" width="8.6" height="8.1" fill="#dadada"/><rect x="49.8" y="-7.8" width="8.6" height="8.1" fill="#929292"/><rect x="58.1" y="-7.8" width="8.6" height="8.1" fill="#7c7c7c"/><rect x="66.4" y="-7.8" width="8.6" height="8.1" fill="#808080"/><rect x="74.7" y="-7.8" width="8.6" height="8.1" fill="#dcdcdc"/></g>
<g transform="translate(1818.4,917.8) matrix(1 0 -0.4 1 0 0)" shape-rendering="crispEdges"><rect x="0" y="-40" width="83" height="40" fill="#060606"/><rect x="8.3" y="-40" width="8.6" height="8.3" fill="#808080"/><rect x="16.6" y="-40" width="8.6" height="8.3" fill="#8a8a8a"/><rect x="24.9" y="-40" width="8.6" height="8.3" fill="#ffffff"/><rect x="33.2" y="-40" width="8.6" height="8.3" fill="#818181"/><rect x="49.8" y="-40" width="8.6" height="8.3" fill="#0a0a0a"/><rect x="58.1" y="-40" width="8.6" height="8.3" fill="#0c0c0c"/><rect x="66.4" y="-40" width="8.6" height="8.3" fill="#0a0a0a"/><rect x="74.7" y="-40" width="8.6" height="8.3" fill="#080808"/><rect x="8.3" y="-32" width="8.6" height="8.3" fill="#808080"/><rect x="49.8" y="-32" width="8.6" height="8.3" fill="#0e0e0e"/><rect x="58.1" y="-32" width="8.6" height="8.3" fill="#080808"/><rect x="66.4" y="-32" width="8.6" height="8.3" fill="#080808"/><rect x="74.7" y="-32" width="8.6" height="8.3" fill="#0e0e0e"/><rect x="8.3" y="-24" width="8.6" height="8.3" fill="#848484"/><rect x="16.6" y="-24" width="8.6" height="8.3" fill="#848484"/><rect x="24.9" y="-24" width="8.6" height="8.3" fill="#888888"/><rect x="33.2" y="-24" width="8.6" height="8.3" fill="#868686"/><rect x="49.8" y="-24" width="8.6" height="8.3" fill="#0a0a0a"/><rect x="58.1" y="-24" width="8.6" height="8.3" fill="#080808"/><rect x="66.4" y="-24" width="8.6" height="8.3" fill="#080808"/><rect x="74.7" y="-24" width="8.6" height="8.3" fill="#0a0a0a"/><rect x="8.3" y="-16" width="8.6" height="8.3" fill="#828282"/><rect x="49.8" y="-16" width="8.6" height="8.3" fill="#090909"/><rect x="58.1" y="-16" width="8.6" height="8.3" fill="#080808"/><rect x="66.4" y="-16" width="8.6" height="8.3" fill="#080808"/><rect x="74.7" y="-16" width="8.6" height="8.3" fill="#0b0b0b"/><rect x="8.3" y="-8" width="8.6" height="8.3" fill="#c8c8c8"/><rect x="49.8" y="-8" width="8.6" height="8.3" fill="#080808"/><rect x="58.1" y="-8" width="8.6" height="8.3" fill="#0c0c0c"/><rect x="66.4" y="-8" width="8.6" height="8.3" fill="#0e0e0e"/><rect x="74.7" y="-8" width="8.6" height="8.3" fill="#080808"/></g>
</g>
</svg>
</body></html>
